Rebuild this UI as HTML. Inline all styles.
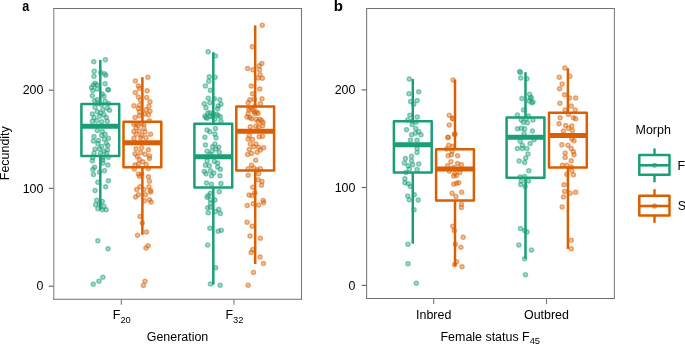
<!DOCTYPE html>
<html><head><meta charset="utf-8"><style>
html,body{margin:0;padding:0;background:#fff;width:685px;height:345px;overflow:hidden}
svg{display:block}
text{font-family:"Liberation Sans",sans-serif}
</style></head><body>
<svg width="685" height="345" viewBox="0 0 685 345">
<rect width="685" height="345" fill="#fff"/>
<line x1="53.8" y1="8.5" x2="301.5" y2="8.5" stroke="#727272" stroke-width="1.1" stroke-linecap="square"/>
<line x1="53.8" y1="8.5" x2="53.8" y2="299.3" stroke="#8c8c8c" stroke-width="1.15" stroke-linecap="square"/>
<line x1="301.5" y1="8.5" x2="301.5" y2="299.3" stroke="#787878" stroke-width="1.1" stroke-linecap="square"/>
<line x1="53.8" y1="299.3" x2="301.5" y2="299.3" stroke="#727272" stroke-width="1.1" stroke-linecap="square"/>
<line x1="366.6" y1="8.5" x2="614.4" y2="8.5" stroke="#727272" stroke-width="1.1" stroke-linecap="square"/>
<line x1="366.6" y1="8.5" x2="366.6" y2="298.5" stroke="#808080" stroke-width="1.15" stroke-linecap="square"/>
<line x1="614.4" y1="8.5" x2="614.4" y2="298.5" stroke="#858585" stroke-width="1.15" stroke-linecap="square"/>
<line x1="366.6" y1="298.5" x2="614.4" y2="298.5" stroke="#727272" stroke-width="1.1" stroke-linecap="square"/>
<line x1="48.8" y1="286.2" x2="53.6" y2="286.2" stroke="#5f5f5f" stroke-width="1.1"/>
<line x1="48.8" y1="188.3" x2="53.6" y2="188.3" stroke="#5f5f5f" stroke-width="1.1"/>
<line x1="48.8" y1="90.2" x2="53.6" y2="90.2" stroke="#5f5f5f" stroke-width="1.1"/>
<line x1="361.6" y1="285.4" x2="366.4" y2="285.4" stroke="#5f5f5f" stroke-width="1.1"/>
<line x1="361.6" y1="187.5" x2="366.4" y2="187.5" stroke="#5f5f5f" stroke-width="1.1"/>
<line x1="361.6" y1="89.9" x2="366.4" y2="89.9" stroke="#5f5f5f" stroke-width="1.1"/>
<line x1="121.3" y1="299.3" x2="121.3" y2="304.8" stroke="#7a7a7a" stroke-width="1.1"/>
<line x1="234.0" y1="299.3" x2="234.0" y2="304.8" stroke="#7a7a7a" stroke-width="1.1"/>
<line x1="433.7" y1="298.5" x2="433.7" y2="304.0" stroke="#7a7a7a" stroke-width="1.1"/>
<line x1="546.5" y1="298.5" x2="546.5" y2="304.0" stroke="#7a7a7a" stroke-width="1.1"/>
<defs><filter id="pb" x="-5%" y="-5%" width="110%" height="110%"><feGaussianBlur stdDeviation="0.3"/></filter></defs>
<g filter="url(#pb)">
<circle cx="93.76" cy="61.66" r="2.05" fill="#1b9e77" fill-opacity="0.38" stroke="#1b9e77" stroke-opacity="0.52" stroke-width="1.4"/>
<circle cx="105.41" cy="59.66" r="2.05" fill="#1b9e77" fill-opacity="0.38" stroke="#1b9e77" stroke-opacity="0.52" stroke-width="1.4"/>
<circle cx="94.21" cy="71.31" r="2.05" fill="#1b9e77" fill-opacity="0.38" stroke="#1b9e77" stroke-opacity="0.52" stroke-width="1.4"/>
<circle cx="93.99" cy="76.3" r="2.05" fill="#1b9e77" fill-opacity="0.38" stroke="#1b9e77" stroke-opacity="0.52" stroke-width="1.4"/>
<circle cx="100.64" cy="72.53" r="2.05" fill="#1b9e77" fill-opacity="0.38" stroke="#1b9e77" stroke-opacity="0.52" stroke-width="1.4"/>
<circle cx="104.53" cy="73.86" r="2.05" fill="#1b9e77" fill-opacity="0.38" stroke="#1b9e77" stroke-opacity="0.52" stroke-width="1.4"/>
<circle cx="105.08" cy="83.85" r="2.05" fill="#1b9e77" fill-opacity="0.38" stroke="#1b9e77" stroke-opacity="0.52" stroke-width="1.4"/>
<circle cx="93.43" cy="84.96" r="2.05" fill="#1b9e77" fill-opacity="0.38" stroke="#1b9e77" stroke-opacity="0.52" stroke-width="1.4"/>
<circle cx="96.76" cy="84.73" r="2.05" fill="#1b9e77" fill-opacity="0.38" stroke="#1b9e77" stroke-opacity="0.52" stroke-width="1.4"/>
<circle cx="108.13" cy="89.81" r="2.05" fill="#1b9e77" fill-opacity="0.38" stroke="#1b9e77" stroke-opacity="0.52" stroke-width="1.4"/>
<circle cx="92.88" cy="90.5" r="2.05" fill="#1b9e77" fill-opacity="0.38" stroke="#1b9e77" stroke-opacity="0.52" stroke-width="1.4"/>
<circle cx="147.8" cy="77.19" r="2.05" fill="#d95f02" fill-opacity="0.38" stroke="#d95f02" stroke-opacity="0.52" stroke-width="1.4"/>
<circle cx="135.37" cy="81.07" r="2.05" fill="#d95f02" fill-opacity="0.38" stroke="#d95f02" stroke-opacity="0.52" stroke-width="1.4"/>
<circle cx="138.36" cy="86.07" r="2.05" fill="#d95f02" fill-opacity="0.38" stroke="#d95f02" stroke-opacity="0.52" stroke-width="1.4"/>
<circle cx="135.31" cy="92.58" r="2.05" fill="#d95f02" fill-opacity="0.38" stroke="#d95f02" stroke-opacity="0.52" stroke-width="1.4"/>
<circle cx="147.13" cy="90.75" r="2.05" fill="#d95f02" fill-opacity="0.38" stroke="#d95f02" stroke-opacity="0.52" stroke-width="1.4"/>
<circle cx="97.31" cy="89.11" r="2.05" fill="#1b9e77" fill-opacity="0.38" stroke="#1b9e77" stroke-opacity="0.52" stroke-width="1.4"/>
<circle cx="92.32" cy="95.77" r="2.05" fill="#1b9e77" fill-opacity="0.38" stroke="#1b9e77" stroke-opacity="0.52" stroke-width="1.4"/>
<circle cx="102.31" cy="94.1" r="2.05" fill="#1b9e77" fill-opacity="0.38" stroke="#1b9e77" stroke-opacity="0.52" stroke-width="1.4"/>
<circle cx="103.97" cy="96.32" r="2.05" fill="#1b9e77" fill-opacity="0.38" stroke="#1b9e77" stroke-opacity="0.52" stroke-width="1.4"/>
<circle cx="97.31" cy="99.65" r="2.05" fill="#1b9e77" fill-opacity="0.38" stroke="#1b9e77" stroke-opacity="0.52" stroke-width="1.4"/>
<circle cx="94.54" cy="100.76" r="2.05" fill="#1b9e77" fill-opacity="0.38" stroke="#1b9e77" stroke-opacity="0.52" stroke-width="1.4"/>
<circle cx="105.08" cy="101.31" r="2.05" fill="#1b9e77" fill-opacity="0.38" stroke="#1b9e77" stroke-opacity="0.52" stroke-width="1.4"/>
<circle cx="98.42" cy="103.53" r="2.05" fill="#1b9e77" fill-opacity="0.38" stroke="#1b9e77" stroke-opacity="0.52" stroke-width="1.4"/>
<circle cx="101.75" cy="104.64" r="2.05" fill="#1b9e77" fill-opacity="0.38" stroke="#1b9e77" stroke-opacity="0.52" stroke-width="1.4"/>
<circle cx="108.41" cy="103.53" r="2.05" fill="#1b9e77" fill-opacity="0.38" stroke="#1b9e77" stroke-opacity="0.52" stroke-width="1.4"/>
<circle cx="95.09" cy="107.42" r="2.05" fill="#1b9e77" fill-opacity="0.38" stroke="#1b9e77" stroke-opacity="0.52" stroke-width="1.4"/>
<circle cx="107.3" cy="107.97" r="2.05" fill="#1b9e77" fill-opacity="0.38" stroke="#1b9e77" stroke-opacity="0.52" stroke-width="1.4"/>
<circle cx="109.52" cy="110.19" r="2.05" fill="#1b9e77" fill-opacity="0.38" stroke="#1b9e77" stroke-opacity="0.52" stroke-width="1.4"/>
<circle cx="102.86" cy="109.64" r="2.05" fill="#1b9e77" fill-opacity="0.38" stroke="#1b9e77" stroke-opacity="0.52" stroke-width="1.4"/>
<circle cx="92.32" cy="114.07" r="2.05" fill="#1b9e77" fill-opacity="0.38" stroke="#1b9e77" stroke-opacity="0.52" stroke-width="1.4"/>
<circle cx="97.31" cy="111.85" r="2.05" fill="#1b9e77" fill-opacity="0.38" stroke="#1b9e77" stroke-opacity="0.52" stroke-width="1.4"/>
<circle cx="100.64" cy="112.96" r="2.05" fill="#1b9e77" fill-opacity="0.38" stroke="#1b9e77" stroke-opacity="0.52" stroke-width="1.4"/>
<circle cx="103.97" cy="114.63" r="2.05" fill="#1b9e77" fill-opacity="0.38" stroke="#1b9e77" stroke-opacity="0.52" stroke-width="1.4"/>
<circle cx="93.99" cy="117.4" r="2.05" fill="#1b9e77" fill-opacity="0.38" stroke="#1b9e77" stroke-opacity="0.52" stroke-width="1.4"/>
<circle cx="99.53" cy="116.29" r="2.05" fill="#1b9e77" fill-opacity="0.38" stroke="#1b9e77" stroke-opacity="0.52" stroke-width="1.4"/>
<circle cx="106.19" cy="117.4" r="2.05" fill="#1b9e77" fill-opacity="0.38" stroke="#1b9e77" stroke-opacity="0.52" stroke-width="1.4"/>
<circle cx="92.32" cy="121.28" r="2.05" fill="#1b9e77" fill-opacity="0.38" stroke="#1b9e77" stroke-opacity="0.52" stroke-width="1.4"/>
<circle cx="96.76" cy="120.73" r="2.05" fill="#1b9e77" fill-opacity="0.38" stroke="#1b9e77" stroke-opacity="0.52" stroke-width="1.4"/>
<circle cx="101.75" cy="121.84" r="2.05" fill="#1b9e77" fill-opacity="0.38" stroke="#1b9e77" stroke-opacity="0.52" stroke-width="1.4"/>
<circle cx="107.3" cy="121.28" r="2.05" fill="#1b9e77" fill-opacity="0.38" stroke="#1b9e77" stroke-opacity="0.52" stroke-width="1.4"/>
<circle cx="139.47" cy="88.55" r="2.05" fill="#d95f02" fill-opacity="0.38" stroke="#d95f02" stroke-opacity="0.52" stroke-width="1.4"/>
<circle cx="138.36" cy="96.88" r="2.05" fill="#d95f02" fill-opacity="0.38" stroke="#d95f02" stroke-opacity="0.52" stroke-width="1.4"/>
<circle cx="146.69" cy="97.43" r="2.05" fill="#d95f02" fill-opacity="0.38" stroke="#d95f02" stroke-opacity="0.52" stroke-width="1.4"/>
<circle cx="140.58" cy="100.2" r="2.05" fill="#d95f02" fill-opacity="0.38" stroke="#d95f02" stroke-opacity="0.52" stroke-width="1.4"/>
<circle cx="150.01" cy="101.87" r="2.05" fill="#d95f02" fill-opacity="0.38" stroke="#d95f02" stroke-opacity="0.52" stroke-width="1.4"/>
<circle cx="133.93" cy="105.75" r="2.05" fill="#d95f02" fill-opacity="0.38" stroke="#d95f02" stroke-opacity="0.52" stroke-width="1.4"/>
<circle cx="139.47" cy="105.2" r="2.05" fill="#d95f02" fill-opacity="0.38" stroke="#d95f02" stroke-opacity="0.52" stroke-width="1.4"/>
<circle cx="148.91" cy="106.31" r="2.05" fill="#d95f02" fill-opacity="0.38" stroke="#d95f02" stroke-opacity="0.52" stroke-width="1.4"/>
<circle cx="138.36" cy="108.53" r="2.05" fill="#d95f02" fill-opacity="0.38" stroke="#d95f02" stroke-opacity="0.52" stroke-width="1.4"/>
<circle cx="146.13" cy="109.64" r="2.05" fill="#d95f02" fill-opacity="0.38" stroke="#d95f02" stroke-opacity="0.52" stroke-width="1.4"/>
<circle cx="150.01" cy="111.3" r="2.05" fill="#d95f02" fill-opacity="0.38" stroke="#d95f02" stroke-opacity="0.52" stroke-width="1.4"/>
<circle cx="139.47" cy="111.85" r="2.05" fill="#d95f02" fill-opacity="0.38" stroke="#d95f02" stroke-opacity="0.52" stroke-width="1.4"/>
<circle cx="144.47" cy="114.07" r="2.05" fill="#d95f02" fill-opacity="0.38" stroke="#d95f02" stroke-opacity="0.52" stroke-width="1.4"/>
<circle cx="135.04" cy="117.4" r="2.05" fill="#d95f02" fill-opacity="0.38" stroke="#d95f02" stroke-opacity="0.52" stroke-width="1.4"/>
<circle cx="139.47" cy="115.74" r="2.05" fill="#d95f02" fill-opacity="0.38" stroke="#d95f02" stroke-opacity="0.52" stroke-width="1.4"/>
<circle cx="148.35" cy="114.63" r="2.05" fill="#d95f02" fill-opacity="0.38" stroke="#d95f02" stroke-opacity="0.52" stroke-width="1.4"/>
<circle cx="149.46" cy="120.73" r="2.05" fill="#d95f02" fill-opacity="0.38" stroke="#d95f02" stroke-opacity="0.52" stroke-width="1.4"/>
<circle cx="136.15" cy="123.5" r="2.05" fill="#d95f02" fill-opacity="0.38" stroke="#d95f02" stroke-opacity="0.52" stroke-width="1.4"/>
<circle cx="141.69" cy="123.5" r="2.05" fill="#d95f02" fill-opacity="0.38" stroke="#d95f02" stroke-opacity="0.52" stroke-width="1.4"/>
<circle cx="97.31" cy="130.43" r="2.05" fill="#1b9e77" fill-opacity="0.38" stroke="#1b9e77" stroke-opacity="0.52" stroke-width="1.4"/>
<circle cx="102.31" cy="131.54" r="2.05" fill="#1b9e77" fill-opacity="0.38" stroke="#1b9e77" stroke-opacity="0.52" stroke-width="1.4"/>
<circle cx="105.08" cy="134.31" r="2.05" fill="#1b9e77" fill-opacity="0.38" stroke="#1b9e77" stroke-opacity="0.52" stroke-width="1.4"/>
<circle cx="93.99" cy="136.53" r="2.05" fill="#1b9e77" fill-opacity="0.38" stroke="#1b9e77" stroke-opacity="0.52" stroke-width="1.4"/>
<circle cx="101.75" cy="135.42" r="2.05" fill="#1b9e77" fill-opacity="0.38" stroke="#1b9e77" stroke-opacity="0.52" stroke-width="1.4"/>
<circle cx="108.41" cy="138.2" r="2.05" fill="#1b9e77" fill-opacity="0.38" stroke="#1b9e77" stroke-opacity="0.52" stroke-width="1.4"/>
<circle cx="93.43" cy="140.97" r="2.05" fill="#1b9e77" fill-opacity="0.38" stroke="#1b9e77" stroke-opacity="0.52" stroke-width="1.4"/>
<circle cx="98.42" cy="140.42" r="2.05" fill="#1b9e77" fill-opacity="0.38" stroke="#1b9e77" stroke-opacity="0.52" stroke-width="1.4"/>
<circle cx="104.53" cy="139.31" r="2.05" fill="#1b9e77" fill-opacity="0.38" stroke="#1b9e77" stroke-opacity="0.52" stroke-width="1.4"/>
<circle cx="106.19" cy="143.19" r="2.05" fill="#1b9e77" fill-opacity="0.38" stroke="#1b9e77" stroke-opacity="0.52" stroke-width="1.4"/>
<circle cx="97.87" cy="143.74" r="2.05" fill="#1b9e77" fill-opacity="0.38" stroke="#1b9e77" stroke-opacity="0.52" stroke-width="1.4"/>
<circle cx="107.85" cy="145.41" r="2.05" fill="#1b9e77" fill-opacity="0.38" stroke="#1b9e77" stroke-opacity="0.52" stroke-width="1.4"/>
<circle cx="101.75" cy="146.52" r="2.05" fill="#1b9e77" fill-opacity="0.38" stroke="#1b9e77" stroke-opacity="0.52" stroke-width="1.4"/>
<circle cx="95.09" cy="149.29" r="2.05" fill="#1b9e77" fill-opacity="0.38" stroke="#1b9e77" stroke-opacity="0.52" stroke-width="1.4"/>
<circle cx="99.53" cy="148.74" r="2.05" fill="#1b9e77" fill-opacity="0.38" stroke="#1b9e77" stroke-opacity="0.52" stroke-width="1.4"/>
<circle cx="107.3" cy="149.85" r="2.05" fill="#1b9e77" fill-opacity="0.38" stroke="#1b9e77" stroke-opacity="0.52" stroke-width="1.4"/>
<circle cx="103.97" cy="151.51" r="2.05" fill="#1b9e77" fill-opacity="0.38" stroke="#1b9e77" stroke-opacity="0.52" stroke-width="1.4"/>
<circle cx="93.99" cy="153.18" r="2.05" fill="#1b9e77" fill-opacity="0.38" stroke="#1b9e77" stroke-opacity="0.52" stroke-width="1.4"/>
<circle cx="100.64" cy="153.18" r="2.05" fill="#1b9e77" fill-opacity="0.38" stroke="#1b9e77" stroke-opacity="0.52" stroke-width="1.4"/>
<circle cx="106.74" cy="153.18" r="2.05" fill="#1b9e77" fill-opacity="0.38" stroke="#1b9e77" stroke-opacity="0.52" stroke-width="1.4"/>
<circle cx="92.88" cy="157.61" r="2.05" fill="#1b9e77" fill-opacity="0.38" stroke="#1b9e77" stroke-opacity="0.52" stroke-width="1.4"/>
<circle cx="102.86" cy="157.61" r="2.05" fill="#1b9e77" fill-opacity="0.38" stroke="#1b9e77" stroke-opacity="0.52" stroke-width="1.4"/>
<circle cx="133.93" cy="124.33" r="2.05" fill="#d95f02" fill-opacity="0.38" stroke="#d95f02" stroke-opacity="0.52" stroke-width="1.4"/>
<circle cx="138.36" cy="125.44" r="2.05" fill="#d95f02" fill-opacity="0.38" stroke="#d95f02" stroke-opacity="0.52" stroke-width="1.4"/>
<circle cx="143.91" cy="124.33" r="2.05" fill="#d95f02" fill-opacity="0.38" stroke="#d95f02" stroke-opacity="0.52" stroke-width="1.4"/>
<circle cx="136.15" cy="127.66" r="2.05" fill="#d95f02" fill-opacity="0.38" stroke="#d95f02" stroke-opacity="0.52" stroke-width="1.4"/>
<circle cx="143.91" cy="128.21" r="2.05" fill="#d95f02" fill-opacity="0.38" stroke="#d95f02" stroke-opacity="0.52" stroke-width="1.4"/>
<circle cx="133.93" cy="131.54" r="2.05" fill="#d95f02" fill-opacity="0.38" stroke="#d95f02" stroke-opacity="0.52" stroke-width="1.4"/>
<circle cx="139.47" cy="130.99" r="2.05" fill="#d95f02" fill-opacity="0.38" stroke="#d95f02" stroke-opacity="0.52" stroke-width="1.4"/>
<circle cx="145.02" cy="132.09" r="2.05" fill="#d95f02" fill-opacity="0.38" stroke="#d95f02" stroke-opacity="0.52" stroke-width="1.4"/>
<circle cx="150.57" cy="134.31" r="2.05" fill="#d95f02" fill-opacity="0.38" stroke="#d95f02" stroke-opacity="0.52" stroke-width="1.4"/>
<circle cx="136.15" cy="134.31" r="2.05" fill="#d95f02" fill-opacity="0.38" stroke="#d95f02" stroke-opacity="0.52" stroke-width="1.4"/>
<circle cx="141.69" cy="135.42" r="2.05" fill="#d95f02" fill-opacity="0.38" stroke="#d95f02" stroke-opacity="0.52" stroke-width="1.4"/>
<circle cx="133.93" cy="138.2" r="2.05" fill="#d95f02" fill-opacity="0.38" stroke="#d95f02" stroke-opacity="0.52" stroke-width="1.4"/>
<circle cx="140.58" cy="137.64" r="2.05" fill="#d95f02" fill-opacity="0.38" stroke="#d95f02" stroke-opacity="0.52" stroke-width="1.4"/>
<circle cx="146.13" cy="137.64" r="2.05" fill="#d95f02" fill-opacity="0.38" stroke="#d95f02" stroke-opacity="0.52" stroke-width="1.4"/>
<circle cx="136.15" cy="148.74" r="2.05" fill="#d95f02" fill-opacity="0.38" stroke="#d95f02" stroke-opacity="0.52" stroke-width="1.4"/>
<circle cx="141.69" cy="147.63" r="2.05" fill="#d95f02" fill-opacity="0.38" stroke="#d95f02" stroke-opacity="0.52" stroke-width="1.4"/>
<circle cx="148.35" cy="149.85" r="2.05" fill="#d95f02" fill-opacity="0.38" stroke="#d95f02" stroke-opacity="0.52" stroke-width="1.4"/>
<circle cx="135.04" cy="153.73" r="2.05" fill="#d95f02" fill-opacity="0.38" stroke="#d95f02" stroke-opacity="0.52" stroke-width="1.4"/>
<circle cx="140.58" cy="152.62" r="2.05" fill="#d95f02" fill-opacity="0.38" stroke="#d95f02" stroke-opacity="0.52" stroke-width="1.4"/>
<circle cx="145.02" cy="154.28" r="2.05" fill="#d95f02" fill-opacity="0.38" stroke="#d95f02" stroke-opacity="0.52" stroke-width="1.4"/>
<circle cx="149.46" cy="155.95" r="2.05" fill="#d95f02" fill-opacity="0.38" stroke="#d95f02" stroke-opacity="0.52" stroke-width="1.4"/>
<circle cx="137.26" cy="156.5" r="2.05" fill="#d95f02" fill-opacity="0.38" stroke="#d95f02" stroke-opacity="0.52" stroke-width="1.4"/>
<circle cx="108.41" cy="157.33" r="2.05" fill="#1b9e77" fill-opacity="0.38" stroke="#1b9e77" stroke-opacity="0.52" stroke-width="1.4"/>
<circle cx="92.32" cy="160.66" r="2.05" fill="#1b9e77" fill-opacity="0.38" stroke="#1b9e77" stroke-opacity="0.52" stroke-width="1.4"/>
<circle cx="102.86" cy="160.1" r="2.05" fill="#1b9e77" fill-opacity="0.38" stroke="#1b9e77" stroke-opacity="0.52" stroke-width="1.4"/>
<circle cx="102.86" cy="162.88" r="2.05" fill="#1b9e77" fill-opacity="0.38" stroke="#1b9e77" stroke-opacity="0.52" stroke-width="1.4"/>
<circle cx="107.85" cy="165.09" r="2.05" fill="#1b9e77" fill-opacity="0.38" stroke="#1b9e77" stroke-opacity="0.52" stroke-width="1.4"/>
<circle cx="94.54" cy="167.31" r="2.05" fill="#1b9e77" fill-opacity="0.38" stroke="#1b9e77" stroke-opacity="0.52" stroke-width="1.4"/>
<circle cx="92.88" cy="169.53" r="2.05" fill="#1b9e77" fill-opacity="0.38" stroke="#1b9e77" stroke-opacity="0.52" stroke-width="1.4"/>
<circle cx="104.53" cy="170.64" r="2.05" fill="#1b9e77" fill-opacity="0.38" stroke="#1b9e77" stroke-opacity="0.52" stroke-width="1.4"/>
<circle cx="99.53" cy="172.31" r="2.05" fill="#1b9e77" fill-opacity="0.38" stroke="#1b9e77" stroke-opacity="0.52" stroke-width="1.4"/>
<circle cx="93.43" cy="174.53" r="2.05" fill="#1b9e77" fill-opacity="0.38" stroke="#1b9e77" stroke-opacity="0.52" stroke-width="1.4"/>
<circle cx="97.87" cy="182.29" r="2.05" fill="#1b9e77" fill-opacity="0.38" stroke="#1b9e77" stroke-opacity="0.52" stroke-width="1.4"/>
<circle cx="108.41" cy="180.63" r="2.05" fill="#1b9e77" fill-opacity="0.38" stroke="#1b9e77" stroke-opacity="0.52" stroke-width="1.4"/>
<circle cx="105.64" cy="186.73" r="2.05" fill="#1b9e77" fill-opacity="0.38" stroke="#1b9e77" stroke-opacity="0.52" stroke-width="1.4"/>
<circle cx="95.09" cy="190.61" r="2.05" fill="#1b9e77" fill-opacity="0.38" stroke="#1b9e77" stroke-opacity="0.52" stroke-width="1.4"/>
<circle cx="139.47" cy="159.55" r="2.05" fill="#d95f02" fill-opacity="0.38" stroke="#d95f02" stroke-opacity="0.52" stroke-width="1.4"/>
<circle cx="142.8" cy="161.77" r="2.05" fill="#d95f02" fill-opacity="0.38" stroke="#d95f02" stroke-opacity="0.52" stroke-width="1.4"/>
<circle cx="149.46" cy="158.44" r="2.05" fill="#d95f02" fill-opacity="0.38" stroke="#d95f02" stroke-opacity="0.52" stroke-width="1.4"/>
<circle cx="138.36" cy="163.99" r="2.05" fill="#d95f02" fill-opacity="0.38" stroke="#d95f02" stroke-opacity="0.52" stroke-width="1.4"/>
<circle cx="146.13" cy="164.54" r="2.05" fill="#d95f02" fill-opacity="0.38" stroke="#d95f02" stroke-opacity="0.52" stroke-width="1.4"/>
<circle cx="135.04" cy="165.09" r="2.05" fill="#d95f02" fill-opacity="0.38" stroke="#d95f02" stroke-opacity="0.52" stroke-width="1.4"/>
<circle cx="134.48" cy="168.98" r="2.05" fill="#d95f02" fill-opacity="0.38" stroke="#d95f02" stroke-opacity="0.52" stroke-width="1.4"/>
<circle cx="148.35" cy="168.42" r="2.05" fill="#d95f02" fill-opacity="0.38" stroke="#d95f02" stroke-opacity="0.52" stroke-width="1.4"/>
<circle cx="138.36" cy="173.97" r="2.05" fill="#d95f02" fill-opacity="0.38" stroke="#d95f02" stroke-opacity="0.52" stroke-width="1.4"/>
<circle cx="139.47" cy="176.19" r="2.05" fill="#d95f02" fill-opacity="0.38" stroke="#d95f02" stroke-opacity="0.52" stroke-width="1.4"/>
<circle cx="141.69" cy="173.97" r="2.05" fill="#d95f02" fill-opacity="0.38" stroke="#d95f02" stroke-opacity="0.52" stroke-width="1.4"/>
<circle cx="148.35" cy="176.74" r="2.05" fill="#d95f02" fill-opacity="0.38" stroke="#d95f02" stroke-opacity="0.52" stroke-width="1.4"/>
<circle cx="149.46" cy="181.18" r="2.05" fill="#d95f02" fill-opacity="0.38" stroke="#d95f02" stroke-opacity="0.52" stroke-width="1.4"/>
<circle cx="140.03" cy="186.73" r="2.05" fill="#d95f02" fill-opacity="0.38" stroke="#d95f02" stroke-opacity="0.52" stroke-width="1.4"/>
<circle cx="148.91" cy="186.73" r="2.05" fill="#d95f02" fill-opacity="0.38" stroke="#d95f02" stroke-opacity="0.52" stroke-width="1.4"/>
<circle cx="136.7" cy="189.5" r="2.05" fill="#d95f02" fill-opacity="0.38" stroke="#d95f02" stroke-opacity="0.52" stroke-width="1.4"/>
<circle cx="143.91" cy="189.5" r="2.05" fill="#d95f02" fill-opacity="0.38" stroke="#d95f02" stroke-opacity="0.52" stroke-width="1.4"/>
<circle cx="150.57" cy="190.61" r="2.05" fill="#d95f02" fill-opacity="0.38" stroke="#d95f02" stroke-opacity="0.52" stroke-width="1.4"/>
<circle cx="96.76" cy="200.31" r="2.05" fill="#1b9e77" fill-opacity="0.38" stroke="#1b9e77" stroke-opacity="0.52" stroke-width="1.4"/>
<circle cx="102.31" cy="201.42" r="2.05" fill="#1b9e77" fill-opacity="0.38" stroke="#1b9e77" stroke-opacity="0.52" stroke-width="1.4"/>
<circle cx="95.65" cy="204.75" r="2.05" fill="#1b9e77" fill-opacity="0.38" stroke="#1b9e77" stroke-opacity="0.52" stroke-width="1.4"/>
<circle cx="103.97" cy="206.42" r="2.05" fill="#1b9e77" fill-opacity="0.38" stroke="#1b9e77" stroke-opacity="0.52" stroke-width="1.4"/>
<circle cx="97.87" cy="208.64" r="2.05" fill="#1b9e77" fill-opacity="0.38" stroke="#1b9e77" stroke-opacity="0.52" stroke-width="1.4"/>
<circle cx="102.31" cy="209.74" r="2.05" fill="#1b9e77" fill-opacity="0.38" stroke="#1b9e77" stroke-opacity="0.52" stroke-width="1.4"/>
<circle cx="106.19" cy="209.74" r="2.05" fill="#1b9e77" fill-opacity="0.38" stroke="#1b9e77" stroke-opacity="0.52" stroke-width="1.4"/>
<circle cx="99.53" cy="203.64" r="2.05" fill="#1b9e77" fill-opacity="0.38" stroke="#1b9e77" stroke-opacity="0.52" stroke-width="1.4"/>
<circle cx="135.59" cy="196.99" r="2.05" fill="#d95f02" fill-opacity="0.38" stroke="#d95f02" stroke-opacity="0.52" stroke-width="1.4"/>
<circle cx="138.36" cy="194.77" r="2.05" fill="#d95f02" fill-opacity="0.38" stroke="#d95f02" stroke-opacity="0.52" stroke-width="1.4"/>
<circle cx="150.57" cy="191.99" r="2.05" fill="#d95f02" fill-opacity="0.38" stroke="#d95f02" stroke-opacity="0.52" stroke-width="1.4"/>
<circle cx="145.58" cy="194.77" r="2.05" fill="#d95f02" fill-opacity="0.38" stroke="#d95f02" stroke-opacity="0.52" stroke-width="1.4"/>
<circle cx="144.47" cy="200.87" r="2.05" fill="#d95f02" fill-opacity="0.38" stroke="#d95f02" stroke-opacity="0.52" stroke-width="1.4"/>
<circle cx="149.46" cy="199.76" r="2.05" fill="#d95f02" fill-opacity="0.38" stroke="#d95f02" stroke-opacity="0.52" stroke-width="1.4"/>
<circle cx="151.12" cy="201.98" r="2.05" fill="#d95f02" fill-opacity="0.38" stroke="#d95f02" stroke-opacity="0.52" stroke-width="1.4"/>
<circle cx="140.03" cy="216.4" r="2.05" fill="#d95f02" fill-opacity="0.38" stroke="#d95f02" stroke-opacity="0.52" stroke-width="1.4"/>
<circle cx="142.25" cy="223.06" r="2.05" fill="#d95f02" fill-opacity="0.38" stroke="#d95f02" stroke-opacity="0.52" stroke-width="1.4"/>
<circle cx="97.87" cy="240.86" r="2.05" fill="#1b9e77" fill-opacity="0.38" stroke="#1b9e77" stroke-opacity="0.52" stroke-width="1.4"/>
<circle cx="108.08" cy="248.85" r="2.05" fill="#1b9e77" fill-opacity="0.38" stroke="#1b9e77" stroke-opacity="0.52" stroke-width="1.4"/>
<circle cx="146.46" cy="231.98" r="2.05" fill="#d95f02" fill-opacity="0.38" stroke="#d95f02" stroke-opacity="0.52" stroke-width="1.4"/>
<circle cx="137.59" cy="235.2" r="2.05" fill="#d95f02" fill-opacity="0.38" stroke="#d95f02" stroke-opacity="0.52" stroke-width="1.4"/>
<circle cx="148.13" cy="245.74" r="2.05" fill="#d95f02" fill-opacity="0.38" stroke="#d95f02" stroke-opacity="0.52" stroke-width="1.4"/>
<circle cx="145.91" cy="247.96" r="2.05" fill="#d95f02" fill-opacity="0.38" stroke="#d95f02" stroke-opacity="0.52" stroke-width="1.4"/>
<circle cx="93.21" cy="284.29" r="2.05" fill="#1b9e77" fill-opacity="0.38" stroke="#1b9e77" stroke-opacity="0.52" stroke-width="1.4"/>
<circle cx="98.98" cy="281.3" r="2.05" fill="#1b9e77" fill-opacity="0.38" stroke="#1b9e77" stroke-opacity="0.52" stroke-width="1.4"/>
<circle cx="102.86" cy="277.3" r="2.05" fill="#1b9e77" fill-opacity="0.38" stroke="#1b9e77" stroke-opacity="0.52" stroke-width="1.4"/>
<circle cx="145.02" cy="281.3" r="2.05" fill="#d95f02" fill-opacity="0.38" stroke="#d95f02" stroke-opacity="0.52" stroke-width="1.4"/>
<circle cx="143.36" cy="285.4" r="2.05" fill="#d95f02" fill-opacity="0.38" stroke="#d95f02" stroke-opacity="0.52" stroke-width="1.4"/>
<circle cx="208.2" cy="51.84" r="2.05" fill="#1b9e77" fill-opacity="0.38" stroke="#1b9e77" stroke-opacity="0.52" stroke-width="1.4"/>
<circle cx="215.42" cy="56.06" r="2.05" fill="#1b9e77" fill-opacity="0.38" stroke="#1b9e77" stroke-opacity="0.52" stroke-width="1.4"/>
<circle cx="262.24" cy="25.33" r="2.05" fill="#d95f02" fill-opacity="0.38" stroke="#d95f02" stroke-opacity="0.52" stroke-width="1.4"/>
<circle cx="252.25" cy="46.85" r="2.05" fill="#d95f02" fill-opacity="0.38" stroke="#d95f02" stroke-opacity="0.52" stroke-width="1.4"/>
<circle cx="209.31" cy="76.85" r="2.05" fill="#1b9e77" fill-opacity="0.38" stroke="#1b9e77" stroke-opacity="0.52" stroke-width="1.4"/>
<circle cx="215.08" cy="77.19" r="2.05" fill="#1b9e77" fill-opacity="0.38" stroke="#1b9e77" stroke-opacity="0.52" stroke-width="1.4"/>
<circle cx="208.76" cy="81.29" r="2.05" fill="#1b9e77" fill-opacity="0.38" stroke="#1b9e77" stroke-opacity="0.52" stroke-width="1.4"/>
<circle cx="205.43" cy="86.06" r="2.05" fill="#1b9e77" fill-opacity="0.38" stroke="#1b9e77" stroke-opacity="0.52" stroke-width="1.4"/>
<circle cx="210.42" cy="90.17" r="2.05" fill="#1b9e77" fill-opacity="0.38" stroke="#1b9e77" stroke-opacity="0.52" stroke-width="1.4"/>
<circle cx="247.59" cy="68.53" r="2.05" fill="#d95f02" fill-opacity="0.38" stroke="#d95f02" stroke-opacity="0.52" stroke-width="1.4"/>
<circle cx="252.92" cy="69.64" r="2.05" fill="#d95f02" fill-opacity="0.38" stroke="#d95f02" stroke-opacity="0.52" stroke-width="1.4"/>
<circle cx="259.57" cy="69.64" r="2.05" fill="#d95f02" fill-opacity="0.38" stroke="#d95f02" stroke-opacity="0.52" stroke-width="1.4"/>
<circle cx="261.79" cy="63.54" r="2.05" fill="#d95f02" fill-opacity="0.38" stroke="#d95f02" stroke-opacity="0.52" stroke-width="1.4"/>
<circle cx="259.24" cy="65.76" r="2.05" fill="#d95f02" fill-opacity="0.38" stroke="#d95f02" stroke-opacity="0.52" stroke-width="1.4"/>
<circle cx="260.13" cy="74.64" r="2.05" fill="#d95f02" fill-opacity="0.38" stroke="#d95f02" stroke-opacity="0.52" stroke-width="1.4"/>
<circle cx="262.35" cy="78.3" r="2.05" fill="#d95f02" fill-opacity="0.38" stroke="#d95f02" stroke-opacity="0.52" stroke-width="1.4"/>
<circle cx="258.13" cy="77.96" r="2.05" fill="#d95f02" fill-opacity="0.38" stroke="#d95f02" stroke-opacity="0.52" stroke-width="1.4"/>
<circle cx="251.25" cy="86.06" r="2.05" fill="#d95f02" fill-opacity="0.38" stroke="#d95f02" stroke-opacity="0.52" stroke-width="1.4"/>
<circle cx="259.8" cy="89.06" r="2.05" fill="#d95f02" fill-opacity="0.38" stroke="#d95f02" stroke-opacity="0.52" stroke-width="1.4"/>
<circle cx="208.2" cy="98.2" r="2.05" fill="#1b9e77" fill-opacity="0.38" stroke="#1b9e77" stroke-opacity="0.52" stroke-width="1.4"/>
<circle cx="214.31" cy="98.76" r="2.05" fill="#1b9e77" fill-opacity="0.38" stroke="#1b9e77" stroke-opacity="0.52" stroke-width="1.4"/>
<circle cx="219.85" cy="99.87" r="2.05" fill="#1b9e77" fill-opacity="0.38" stroke="#1b9e77" stroke-opacity="0.52" stroke-width="1.4"/>
<circle cx="204.32" cy="103.75" r="2.05" fill="#1b9e77" fill-opacity="0.38" stroke="#1b9e77" stroke-opacity="0.52" stroke-width="1.4"/>
<circle cx="209.87" cy="102.64" r="2.05" fill="#1b9e77" fill-opacity="0.38" stroke="#1b9e77" stroke-opacity="0.52" stroke-width="1.4"/>
<circle cx="205.99" cy="107.64" r="2.05" fill="#1b9e77" fill-opacity="0.38" stroke="#1b9e77" stroke-opacity="0.52" stroke-width="1.4"/>
<circle cx="218.19" cy="105.97" r="2.05" fill="#1b9e77" fill-opacity="0.38" stroke="#1b9e77" stroke-opacity="0.52" stroke-width="1.4"/>
<circle cx="220.96" cy="104.31" r="2.05" fill="#1b9e77" fill-opacity="0.38" stroke="#1b9e77" stroke-opacity="0.52" stroke-width="1.4"/>
<circle cx="217.64" cy="108.74" r="2.05" fill="#1b9e77" fill-opacity="0.38" stroke="#1b9e77" stroke-opacity="0.52" stroke-width="1.4"/>
<circle cx="207.65" cy="113.18" r="2.05" fill="#1b9e77" fill-opacity="0.38" stroke="#1b9e77" stroke-opacity="0.52" stroke-width="1.4"/>
<circle cx="213.2" cy="113.74" r="2.05" fill="#1b9e77" fill-opacity="0.38" stroke="#1b9e77" stroke-opacity="0.52" stroke-width="1.4"/>
<circle cx="216.53" cy="114.29" r="2.05" fill="#1b9e77" fill-opacity="0.38" stroke="#1b9e77" stroke-opacity="0.52" stroke-width="1.4"/>
<circle cx="204.88" cy="115.96" r="2.05" fill="#1b9e77" fill-opacity="0.38" stroke="#1b9e77" stroke-opacity="0.52" stroke-width="1.4"/>
<circle cx="207.09" cy="118.18" r="2.05" fill="#1b9e77" fill-opacity="0.38" stroke="#1b9e77" stroke-opacity="0.52" stroke-width="1.4"/>
<circle cx="210.42" cy="116.51" r="2.05" fill="#1b9e77" fill-opacity="0.38" stroke="#1b9e77" stroke-opacity="0.52" stroke-width="1.4"/>
<circle cx="220.41" cy="117.07" r="2.05" fill="#1b9e77" fill-opacity="0.38" stroke="#1b9e77" stroke-opacity="0.52" stroke-width="1.4"/>
<circle cx="214.86" cy="119.28" r="2.05" fill="#1b9e77" fill-opacity="0.38" stroke="#1b9e77" stroke-opacity="0.52" stroke-width="1.4"/>
<circle cx="220.96" cy="121.5" r="2.05" fill="#1b9e77" fill-opacity="0.38" stroke="#1b9e77" stroke-opacity="0.52" stroke-width="1.4"/>
<circle cx="252.58" cy="93.77" r="2.05" fill="#d95f02" fill-opacity="0.38" stroke="#d95f02" stroke-opacity="0.52" stroke-width="1.4"/>
<circle cx="249.81" cy="99.87" r="2.05" fill="#d95f02" fill-opacity="0.38" stroke="#d95f02" stroke-opacity="0.52" stroke-width="1.4"/>
<circle cx="254.25" cy="99.31" r="2.05" fill="#d95f02" fill-opacity="0.38" stroke="#d95f02" stroke-opacity="0.52" stroke-width="1.4"/>
<circle cx="262.01" cy="98.76" r="2.05" fill="#d95f02" fill-opacity="0.38" stroke="#d95f02" stroke-opacity="0.52" stroke-width="1.4"/>
<circle cx="260.35" cy="103.75" r="2.05" fill="#d95f02" fill-opacity="0.38" stroke="#d95f02" stroke-opacity="0.52" stroke-width="1.4"/>
<circle cx="248.15" cy="102.64" r="2.05" fill="#d95f02" fill-opacity="0.38" stroke="#d95f02" stroke-opacity="0.52" stroke-width="1.4"/>
<circle cx="254.8" cy="106.53" r="2.05" fill="#d95f02" fill-opacity="0.38" stroke="#d95f02" stroke-opacity="0.52" stroke-width="1.4"/>
<circle cx="248.7" cy="109.85" r="2.05" fill="#d95f02" fill-opacity="0.38" stroke="#d95f02" stroke-opacity="0.52" stroke-width="1.4"/>
<circle cx="252.58" cy="109.85" r="2.05" fill="#d95f02" fill-opacity="0.38" stroke="#d95f02" stroke-opacity="0.52" stroke-width="1.4"/>
<circle cx="256.47" cy="112.07" r="2.05" fill="#d95f02" fill-opacity="0.38" stroke="#d95f02" stroke-opacity="0.52" stroke-width="1.4"/>
<circle cx="248.15" cy="113.74" r="2.05" fill="#d95f02" fill-opacity="0.38" stroke="#d95f02" stroke-opacity="0.52" stroke-width="1.4"/>
<circle cx="254.8" cy="113.74" r="2.05" fill="#d95f02" fill-opacity="0.38" stroke="#d95f02" stroke-opacity="0.52" stroke-width="1.4"/>
<circle cx="258.13" cy="113.18" r="2.05" fill="#d95f02" fill-opacity="0.38" stroke="#d95f02" stroke-opacity="0.52" stroke-width="1.4"/>
<circle cx="247.04" cy="117.07" r="2.05" fill="#d95f02" fill-opacity="0.38" stroke="#d95f02" stroke-opacity="0.52" stroke-width="1.4"/>
<circle cx="251.47" cy="118.73" r="2.05" fill="#d95f02" fill-opacity="0.38" stroke="#d95f02" stroke-opacity="0.52" stroke-width="1.4"/>
<circle cx="255.91" cy="119.28" r="2.05" fill="#d95f02" fill-opacity="0.38" stroke="#d95f02" stroke-opacity="0.52" stroke-width="1.4"/>
<circle cx="261.46" cy="120.39" r="2.05" fill="#d95f02" fill-opacity="0.38" stroke="#d95f02" stroke-opacity="0.52" stroke-width="1.4"/>
<circle cx="258.13" cy="121.5" r="2.05" fill="#d95f02" fill-opacity="0.38" stroke="#d95f02" stroke-opacity="0.52" stroke-width="1.4"/>
<circle cx="215.42" cy="128.43" r="2.05" fill="#1b9e77" fill-opacity="0.38" stroke="#1b9e77" stroke-opacity="0.52" stroke-width="1.4"/>
<circle cx="207.09" cy="130.09" r="2.05" fill="#1b9e77" fill-opacity="0.38" stroke="#1b9e77" stroke-opacity="0.52" stroke-width="1.4"/>
<circle cx="209.87" cy="131.76" r="2.05" fill="#1b9e77" fill-opacity="0.38" stroke="#1b9e77" stroke-opacity="0.52" stroke-width="1.4"/>
<circle cx="214.86" cy="133.98" r="2.05" fill="#1b9e77" fill-opacity="0.38" stroke="#1b9e77" stroke-opacity="0.52" stroke-width="1.4"/>
<circle cx="204.88" cy="137.31" r="2.05" fill="#1b9e77" fill-opacity="0.38" stroke="#1b9e77" stroke-opacity="0.52" stroke-width="1.4"/>
<circle cx="215.97" cy="137.86" r="2.05" fill="#1b9e77" fill-opacity="0.38" stroke="#1b9e77" stroke-opacity="0.52" stroke-width="1.4"/>
<circle cx="205.43" cy="145.07" r="2.05" fill="#1b9e77" fill-opacity="0.38" stroke="#1b9e77" stroke-opacity="0.52" stroke-width="1.4"/>
<circle cx="214.86" cy="143.96" r="2.05" fill="#1b9e77" fill-opacity="0.38" stroke="#1b9e77" stroke-opacity="0.52" stroke-width="1.4"/>
<circle cx="212.64" cy="146.74" r="2.05" fill="#1b9e77" fill-opacity="0.38" stroke="#1b9e77" stroke-opacity="0.52" stroke-width="1.4"/>
<circle cx="218.74" cy="147.29" r="2.05" fill="#1b9e77" fill-opacity="0.38" stroke="#1b9e77" stroke-opacity="0.52" stroke-width="1.4"/>
<circle cx="215.97" cy="148.96" r="2.05" fill="#1b9e77" fill-opacity="0.38" stroke="#1b9e77" stroke-opacity="0.52" stroke-width="1.4"/>
<circle cx="207.09" cy="151.18" r="2.05" fill="#1b9e77" fill-opacity="0.38" stroke="#1b9e77" stroke-opacity="0.52" stroke-width="1.4"/>
<circle cx="212.09" cy="151.18" r="2.05" fill="#1b9e77" fill-opacity="0.38" stroke="#1b9e77" stroke-opacity="0.52" stroke-width="1.4"/>
<circle cx="219.3" cy="152.28" r="2.05" fill="#1b9e77" fill-opacity="0.38" stroke="#1b9e77" stroke-opacity="0.52" stroke-width="1.4"/>
<circle cx="209.87" cy="154.5" r="2.05" fill="#1b9e77" fill-opacity="0.38" stroke="#1b9e77" stroke-opacity="0.52" stroke-width="1.4"/>
<circle cx="250.36" cy="126.77" r="2.05" fill="#d95f02" fill-opacity="0.38" stroke="#d95f02" stroke-opacity="0.52" stroke-width="1.4"/>
<circle cx="255.91" cy="126.21" r="2.05" fill="#d95f02" fill-opacity="0.38" stroke="#d95f02" stroke-opacity="0.52" stroke-width="1.4"/>
<circle cx="262.57" cy="125.66" r="2.05" fill="#d95f02" fill-opacity="0.38" stroke="#d95f02" stroke-opacity="0.52" stroke-width="1.4"/>
<circle cx="258.69" cy="126.77" r="2.05" fill="#d95f02" fill-opacity="0.38" stroke="#d95f02" stroke-opacity="0.52" stroke-width="1.4"/>
<circle cx="249.26" cy="135.64" r="2.05" fill="#d95f02" fill-opacity="0.38" stroke="#d95f02" stroke-opacity="0.52" stroke-width="1.4"/>
<circle cx="259.24" cy="136.75" r="2.05" fill="#d95f02" fill-opacity="0.38" stroke="#d95f02" stroke-opacity="0.52" stroke-width="1.4"/>
<circle cx="262.57" cy="136.2" r="2.05" fill="#d95f02" fill-opacity="0.38" stroke="#d95f02" stroke-opacity="0.52" stroke-width="1.4"/>
<circle cx="248.15" cy="138.97" r="2.05" fill="#d95f02" fill-opacity="0.38" stroke="#d95f02" stroke-opacity="0.52" stroke-width="1.4"/>
<circle cx="252.58" cy="139.53" r="2.05" fill="#d95f02" fill-opacity="0.38" stroke="#d95f02" stroke-opacity="0.52" stroke-width="1.4"/>
<circle cx="250.36" cy="143.96" r="2.05" fill="#d95f02" fill-opacity="0.38" stroke="#d95f02" stroke-opacity="0.52" stroke-width="1.4"/>
<circle cx="255.91" cy="143.96" r="2.05" fill="#d95f02" fill-opacity="0.38" stroke="#d95f02" stroke-opacity="0.52" stroke-width="1.4"/>
<circle cx="253.69" cy="146.74" r="2.05" fill="#d95f02" fill-opacity="0.38" stroke="#d95f02" stroke-opacity="0.52" stroke-width="1.4"/>
<circle cx="258.69" cy="147.29" r="2.05" fill="#d95f02" fill-opacity="0.38" stroke="#d95f02" stroke-opacity="0.52" stroke-width="1.4"/>
<circle cx="263.68" cy="147.85" r="2.05" fill="#d95f02" fill-opacity="0.38" stroke="#d95f02" stroke-opacity="0.52" stroke-width="1.4"/>
<circle cx="249.26" cy="149.51" r="2.05" fill="#d95f02" fill-opacity="0.38" stroke="#d95f02" stroke-opacity="0.52" stroke-width="1.4"/>
<circle cx="260.35" cy="150.07" r="2.05" fill="#d95f02" fill-opacity="0.38" stroke="#d95f02" stroke-opacity="0.52" stroke-width="1.4"/>
<circle cx="257.02" cy="152.28" r="2.05" fill="#d95f02" fill-opacity="0.38" stroke="#d95f02" stroke-opacity="0.52" stroke-width="1.4"/>
<circle cx="247.59" cy="154.5" r="2.05" fill="#d95f02" fill-opacity="0.38" stroke="#d95f02" stroke-opacity="0.52" stroke-width="1.4"/>
<circle cx="251.47" cy="153.39" r="2.05" fill="#d95f02" fill-opacity="0.38" stroke="#d95f02" stroke-opacity="0.52" stroke-width="1.4"/>
<circle cx="207.09" cy="160.88" r="2.05" fill="#1b9e77" fill-opacity="0.38" stroke="#1b9e77" stroke-opacity="0.52" stroke-width="1.4"/>
<circle cx="214.31" cy="161.43" r="2.05" fill="#1b9e77" fill-opacity="0.38" stroke="#1b9e77" stroke-opacity="0.52" stroke-width="1.4"/>
<circle cx="217.64" cy="163.09" r="2.05" fill="#1b9e77" fill-opacity="0.38" stroke="#1b9e77" stroke-opacity="0.52" stroke-width="1.4"/>
<circle cx="205.43" cy="165.31" r="2.05" fill="#1b9e77" fill-opacity="0.38" stroke="#1b9e77" stroke-opacity="0.52" stroke-width="1.4"/>
<circle cx="209.31" cy="165.87" r="2.05" fill="#1b9e77" fill-opacity="0.38" stroke="#1b9e77" stroke-opacity="0.52" stroke-width="1.4"/>
<circle cx="217.64" cy="166.98" r="2.05" fill="#1b9e77" fill-opacity="0.38" stroke="#1b9e77" stroke-opacity="0.52" stroke-width="1.4"/>
<circle cx="220.41" cy="169.2" r="2.05" fill="#1b9e77" fill-opacity="0.38" stroke="#1b9e77" stroke-opacity="0.52" stroke-width="1.4"/>
<circle cx="204.32" cy="171.42" r="2.05" fill="#1b9e77" fill-opacity="0.38" stroke="#1b9e77" stroke-opacity="0.52" stroke-width="1.4"/>
<circle cx="210.42" cy="170.86" r="2.05" fill="#1b9e77" fill-opacity="0.38" stroke="#1b9e77" stroke-opacity="0.52" stroke-width="1.4"/>
<circle cx="213.75" cy="173.08" r="2.05" fill="#1b9e77" fill-opacity="0.38" stroke="#1b9e77" stroke-opacity="0.52" stroke-width="1.4"/>
<circle cx="205.99" cy="173.64" r="2.05" fill="#1b9e77" fill-opacity="0.38" stroke="#1b9e77" stroke-opacity="0.52" stroke-width="1.4"/>
<circle cx="211.53" cy="175.85" r="2.05" fill="#1b9e77" fill-opacity="0.38" stroke="#1b9e77" stroke-opacity="0.52" stroke-width="1.4"/>
<circle cx="219.85" cy="175.85" r="2.05" fill="#1b9e77" fill-opacity="0.38" stroke="#1b9e77" stroke-opacity="0.52" stroke-width="1.4"/>
<circle cx="206.54" cy="183.07" r="2.05" fill="#1b9e77" fill-opacity="0.38" stroke="#1b9e77" stroke-opacity="0.52" stroke-width="1.4"/>
<circle cx="211.53" cy="184.18" r="2.05" fill="#1b9e77" fill-opacity="0.38" stroke="#1b9e77" stroke-opacity="0.52" stroke-width="1.4"/>
<circle cx="220.96" cy="183.62" r="2.05" fill="#1b9e77" fill-opacity="0.38" stroke="#1b9e77" stroke-opacity="0.52" stroke-width="1.4"/>
<circle cx="255.69" cy="160.32" r="2.05" fill="#d95f02" fill-opacity="0.38" stroke="#d95f02" stroke-opacity="0.52" stroke-width="1.4"/>
<circle cx="251.47" cy="165.31" r="2.05" fill="#d95f02" fill-opacity="0.38" stroke="#d95f02" stroke-opacity="0.52" stroke-width="1.4"/>
<circle cx="248.15" cy="168.64" r="2.05" fill="#d95f02" fill-opacity="0.38" stroke="#d95f02" stroke-opacity="0.52" stroke-width="1.4"/>
<circle cx="253.69" cy="168.09" r="2.05" fill="#d95f02" fill-opacity="0.38" stroke="#d95f02" stroke-opacity="0.52" stroke-width="1.4"/>
<circle cx="260.35" cy="168.64" r="2.05" fill="#d95f02" fill-opacity="0.38" stroke="#d95f02" stroke-opacity="0.52" stroke-width="1.4"/>
<circle cx="257.02" cy="169.75" r="2.05" fill="#d95f02" fill-opacity="0.38" stroke="#d95f02" stroke-opacity="0.52" stroke-width="1.4"/>
<circle cx="248.15" cy="175.3" r="2.05" fill="#d95f02" fill-opacity="0.38" stroke="#d95f02" stroke-opacity="0.52" stroke-width="1.4"/>
<circle cx="258.69" cy="173.64" r="2.05" fill="#d95f02" fill-opacity="0.38" stroke="#d95f02" stroke-opacity="0.52" stroke-width="1.4"/>
<circle cx="258.13" cy="179.74" r="2.05" fill="#d95f02" fill-opacity="0.38" stroke="#d95f02" stroke-opacity="0.52" stroke-width="1.4"/>
<circle cx="262.01" cy="181.4" r="2.05" fill="#d95f02" fill-opacity="0.38" stroke="#d95f02" stroke-opacity="0.52" stroke-width="1.4"/>
<circle cx="261.46" cy="185.28" r="2.05" fill="#d95f02" fill-opacity="0.38" stroke="#d95f02" stroke-opacity="0.52" stroke-width="1.4"/>
<circle cx="252.81" cy="187.28" r="2.05" fill="#d95f02" fill-opacity="0.38" stroke="#d95f02" stroke-opacity="0.52" stroke-width="1.4"/>
<circle cx="219.3" cy="191.66" r="2.05" fill="#1b9e77" fill-opacity="0.38" stroke="#1b9e77" stroke-opacity="0.52" stroke-width="1.4"/>
<circle cx="210.42" cy="193.32" r="2.05" fill="#1b9e77" fill-opacity="0.38" stroke="#1b9e77" stroke-opacity="0.52" stroke-width="1.4"/>
<circle cx="208.2" cy="195.54" r="2.05" fill="#1b9e77" fill-opacity="0.38" stroke="#1b9e77" stroke-opacity="0.52" stroke-width="1.4"/>
<circle cx="207.09" cy="197.2" r="2.05" fill="#1b9e77" fill-opacity="0.38" stroke="#1b9e77" stroke-opacity="0.52" stroke-width="1.4"/>
<circle cx="210.42" cy="199.42" r="2.05" fill="#1b9e77" fill-opacity="0.38" stroke="#1b9e77" stroke-opacity="0.52" stroke-width="1.4"/>
<circle cx="214.86" cy="199.98" r="2.05" fill="#1b9e77" fill-opacity="0.38" stroke="#1b9e77" stroke-opacity="0.52" stroke-width="1.4"/>
<circle cx="210.42" cy="203.31" r="2.05" fill="#1b9e77" fill-opacity="0.38" stroke="#1b9e77" stroke-opacity="0.52" stroke-width="1.4"/>
<circle cx="207.65" cy="207.74" r="2.05" fill="#1b9e77" fill-opacity="0.38" stroke="#1b9e77" stroke-opacity="0.52" stroke-width="1.4"/>
<circle cx="210.42" cy="207.19" r="2.05" fill="#1b9e77" fill-opacity="0.38" stroke="#1b9e77" stroke-opacity="0.52" stroke-width="1.4"/>
<circle cx="218.74" cy="209.41" r="2.05" fill="#1b9e77" fill-opacity="0.38" stroke="#1b9e77" stroke-opacity="0.52" stroke-width="1.4"/>
<circle cx="208.2" cy="212.74" r="2.05" fill="#1b9e77" fill-opacity="0.38" stroke="#1b9e77" stroke-opacity="0.52" stroke-width="1.4"/>
<circle cx="215.42" cy="211.63" r="2.05" fill="#1b9e77" fill-opacity="0.38" stroke="#1b9e77" stroke-opacity="0.52" stroke-width="1.4"/>
<circle cx="220.41" cy="213.62" r="2.05" fill="#1b9e77" fill-opacity="0.38" stroke="#1b9e77" stroke-opacity="0.52" stroke-width="1.4"/>
<circle cx="254.8" cy="192.77" r="2.05" fill="#d95f02" fill-opacity="0.38" stroke="#d95f02" stroke-opacity="0.52" stroke-width="1.4"/>
<circle cx="249.03" cy="194.99" r="2.05" fill="#d95f02" fill-opacity="0.38" stroke="#d95f02" stroke-opacity="0.52" stroke-width="1.4"/>
<circle cx="252.03" cy="195.54" r="2.05" fill="#d95f02" fill-opacity="0.38" stroke="#d95f02" stroke-opacity="0.52" stroke-width="1.4"/>
<circle cx="263.12" cy="200.53" r="2.05" fill="#d95f02" fill-opacity="0.38" stroke="#d95f02" stroke-opacity="0.52" stroke-width="1.4"/>
<circle cx="263.68" cy="202.75" r="2.05" fill="#d95f02" fill-opacity="0.38" stroke="#d95f02" stroke-opacity="0.52" stroke-width="1.4"/>
<circle cx="253.14" cy="203.86" r="2.05" fill="#d95f02" fill-opacity="0.38" stroke="#d95f02" stroke-opacity="0.52" stroke-width="1.4"/>
<circle cx="258.69" cy="204.97" r="2.05" fill="#d95f02" fill-opacity="0.38" stroke="#d95f02" stroke-opacity="0.52" stroke-width="1.4"/>
<circle cx="247.26" cy="205.53" r="2.05" fill="#d95f02" fill-opacity="0.38" stroke="#d95f02" stroke-opacity="0.52" stroke-width="1.4"/>
<circle cx="247.04" cy="222.17" r="2.05" fill="#d95f02" fill-opacity="0.38" stroke="#d95f02" stroke-opacity="0.52" stroke-width="1.4"/>
<circle cx="209.87" cy="228.32" r="2.05" fill="#1b9e77" fill-opacity="0.38" stroke="#1b9e77" stroke-opacity="0.52" stroke-width="1.4"/>
<circle cx="218.19" cy="231.31" r="2.05" fill="#1b9e77" fill-opacity="0.38" stroke="#1b9e77" stroke-opacity="0.52" stroke-width="1.4"/>
<circle cx="221.3" cy="230.2" r="2.05" fill="#1b9e77" fill-opacity="0.38" stroke="#1b9e77" stroke-opacity="0.52" stroke-width="1.4"/>
<circle cx="207.65" cy="244.96" r="2.05" fill="#1b9e77" fill-opacity="0.38" stroke="#1b9e77" stroke-opacity="0.52" stroke-width="1.4"/>
<circle cx="252.25" cy="226.32" r="2.05" fill="#d95f02" fill-opacity="0.38" stroke="#d95f02" stroke-opacity="0.52" stroke-width="1.4"/>
<circle cx="250.03" cy="236.08" r="2.05" fill="#d95f02" fill-opacity="0.38" stroke="#d95f02" stroke-opacity="0.52" stroke-width="1.4"/>
<circle cx="260.35" cy="238.19" r="2.05" fill="#d95f02" fill-opacity="0.38" stroke="#d95f02" stroke-opacity="0.52" stroke-width="1.4"/>
<circle cx="252.81" cy="249.62" r="2.05" fill="#d95f02" fill-opacity="0.38" stroke="#d95f02" stroke-opacity="0.52" stroke-width="1.4"/>
<circle cx="251.14" cy="252.62" r="2.05" fill="#d95f02" fill-opacity="0.38" stroke="#d95f02" stroke-opacity="0.52" stroke-width="1.4"/>
<circle cx="260.13" cy="257.05" r="2.05" fill="#d95f02" fill-opacity="0.38" stroke="#d95f02" stroke-opacity="0.52" stroke-width="1.4"/>
<circle cx="215.64" cy="267.64" r="2.05" fill="#1b9e77" fill-opacity="0.38" stroke="#1b9e77" stroke-opacity="0.52" stroke-width="1.4"/>
<circle cx="210.42" cy="284.06" r="2.05" fill="#1b9e77" fill-opacity="0.38" stroke="#1b9e77" stroke-opacity="0.52" stroke-width="1.4"/>
<circle cx="220.19" cy="285.17" r="2.05" fill="#1b9e77" fill-opacity="0.38" stroke="#1b9e77" stroke-opacity="0.52" stroke-width="1.4"/>
<circle cx="263.46" cy="263.54" r="2.05" fill="#d95f02" fill-opacity="0.38" stroke="#d95f02" stroke-opacity="0.52" stroke-width="1.4"/>
<circle cx="253.47" cy="272.41" r="2.05" fill="#d95f02" fill-opacity="0.38" stroke="#d95f02" stroke-opacity="0.52" stroke-width="1.4"/>
<circle cx="248.15" cy="285.17" r="2.05" fill="#d95f02" fill-opacity="0.38" stroke="#d95f02" stroke-opacity="0.52" stroke-width="1.4"/>
<circle cx="409.31" cy="78.99" r="2.05" fill="#1b9e77" fill-opacity="0.38" stroke="#1b9e77" stroke-opacity="0.52" stroke-width="1.4"/>
<circle cx="408.98" cy="93.64" r="2.05" fill="#1b9e77" fill-opacity="0.38" stroke="#1b9e77" stroke-opacity="0.52" stroke-width="1.4"/>
<circle cx="418.74" cy="91.75" r="2.05" fill="#1b9e77" fill-opacity="0.38" stroke="#1b9e77" stroke-opacity="0.52" stroke-width="1.4"/>
<circle cx="410.65" cy="101.4" r="2.05" fill="#1b9e77" fill-opacity="0.38" stroke="#1b9e77" stroke-opacity="0.52" stroke-width="1.4"/>
<circle cx="417.08" cy="100.62" r="2.05" fill="#1b9e77" fill-opacity="0.38" stroke="#1b9e77" stroke-opacity="0.52" stroke-width="1.4"/>
<circle cx="413.75" cy="104.18" r="2.05" fill="#1b9e77" fill-opacity="0.38" stroke="#1b9e77" stroke-opacity="0.52" stroke-width="1.4"/>
<circle cx="453.14" cy="79.99" r="2.05" fill="#d95f02" fill-opacity="0.38" stroke="#d95f02" stroke-opacity="0.52" stroke-width="1.4"/>
<circle cx="409.87" cy="115.21" r="2.05" fill="#1b9e77" fill-opacity="0.38" stroke="#1b9e77" stroke-opacity="0.52" stroke-width="1.4"/>
<circle cx="417.3" cy="116.98" r="2.05" fill="#1b9e77" fill-opacity="0.38" stroke="#1b9e77" stroke-opacity="0.52" stroke-width="1.4"/>
<circle cx="407.65" cy="119.98" r="2.05" fill="#1b9e77" fill-opacity="0.38" stroke="#1b9e77" stroke-opacity="0.52" stroke-width="1.4"/>
<circle cx="412.09" cy="121.09" r="2.05" fill="#1b9e77" fill-opacity="0.38" stroke="#1b9e77" stroke-opacity="0.52" stroke-width="1.4"/>
<circle cx="415.97" cy="122.2" r="2.05" fill="#1b9e77" fill-opacity="0.38" stroke="#1b9e77" stroke-opacity="0.52" stroke-width="1.4"/>
<circle cx="412.09" cy="124.42" r="2.05" fill="#1b9e77" fill-opacity="0.38" stroke="#1b9e77" stroke-opacity="0.52" stroke-width="1.4"/>
<circle cx="406.54" cy="129.63" r="2.05" fill="#1b9e77" fill-opacity="0.38" stroke="#1b9e77" stroke-opacity="0.52" stroke-width="1.4"/>
<circle cx="415.75" cy="128.52" r="2.05" fill="#1b9e77" fill-opacity="0.38" stroke="#1b9e77" stroke-opacity="0.52" stroke-width="1.4"/>
<circle cx="418.74" cy="131.63" r="2.05" fill="#1b9e77" fill-opacity="0.38" stroke="#1b9e77" stroke-opacity="0.52" stroke-width="1.4"/>
<circle cx="415.42" cy="133.29" r="2.05" fill="#1b9e77" fill-opacity="0.38" stroke="#1b9e77" stroke-opacity="0.52" stroke-width="1.4"/>
<circle cx="411.53" cy="134.73" r="2.05" fill="#1b9e77" fill-opacity="0.38" stroke="#1b9e77" stroke-opacity="0.52" stroke-width="1.4"/>
<circle cx="420.96" cy="134.73" r="2.05" fill="#1b9e77" fill-opacity="0.38" stroke="#1b9e77" stroke-opacity="0.52" stroke-width="1.4"/>
<circle cx="410.42" cy="140.28" r="2.05" fill="#1b9e77" fill-opacity="0.38" stroke="#1b9e77" stroke-opacity="0.52" stroke-width="1.4"/>
<circle cx="417.08" cy="140.28" r="2.05" fill="#1b9e77" fill-opacity="0.38" stroke="#1b9e77" stroke-opacity="0.52" stroke-width="1.4"/>
<circle cx="449.26" cy="115.21" r="2.05" fill="#d95f02" fill-opacity="0.38" stroke="#d95f02" stroke-opacity="0.52" stroke-width="1.4"/>
<circle cx="452.58" cy="118.31" r="2.05" fill="#d95f02" fill-opacity="0.38" stroke="#d95f02" stroke-opacity="0.52" stroke-width="1.4"/>
<circle cx="449.26" cy="124.97" r="2.05" fill="#d95f02" fill-opacity="0.38" stroke="#d95f02" stroke-opacity="0.52" stroke-width="1.4"/>
<circle cx="454.8" cy="134.07" r="2.05" fill="#d95f02" fill-opacity="0.38" stroke="#d95f02" stroke-opacity="0.52" stroke-width="1.4"/>
<circle cx="448.15" cy="137.18" r="2.05" fill="#d95f02" fill-opacity="0.38" stroke="#d95f02" stroke-opacity="0.52" stroke-width="1.4"/>
<circle cx="417.08" cy="148.54" r="2.05" fill="#1b9e77" fill-opacity="0.38" stroke="#1b9e77" stroke-opacity="0.52" stroke-width="1.4"/>
<circle cx="417.08" cy="152.42" r="2.05" fill="#1b9e77" fill-opacity="0.38" stroke="#1b9e77" stroke-opacity="0.52" stroke-width="1.4"/>
<circle cx="411.53" cy="156.31" r="2.05" fill="#1b9e77" fill-opacity="0.38" stroke="#1b9e77" stroke-opacity="0.52" stroke-width="1.4"/>
<circle cx="405.43" cy="158.53" r="2.05" fill="#1b9e77" fill-opacity="0.38" stroke="#1b9e77" stroke-opacity="0.52" stroke-width="1.4"/>
<circle cx="411.53" cy="160.74" r="2.05" fill="#1b9e77" fill-opacity="0.38" stroke="#1b9e77" stroke-opacity="0.52" stroke-width="1.4"/>
<circle cx="404.32" cy="162.96" r="2.05" fill="#1b9e77" fill-opacity="0.38" stroke="#1b9e77" stroke-opacity="0.52" stroke-width="1.4"/>
<circle cx="412.64" cy="164.63" r="2.05" fill="#1b9e77" fill-opacity="0.38" stroke="#1b9e77" stroke-opacity="0.52" stroke-width="1.4"/>
<circle cx="418.74" cy="164.07" r="2.05" fill="#1b9e77" fill-opacity="0.38" stroke="#1b9e77" stroke-opacity="0.52" stroke-width="1.4"/>
<circle cx="408.2" cy="165.74" r="2.05" fill="#1b9e77" fill-opacity="0.38" stroke="#1b9e77" stroke-opacity="0.52" stroke-width="1.4"/>
<circle cx="409.31" cy="169.07" r="2.05" fill="#1b9e77" fill-opacity="0.38" stroke="#1b9e77" stroke-opacity="0.52" stroke-width="1.4"/>
<circle cx="417.08" cy="169.62" r="2.05" fill="#1b9e77" fill-opacity="0.38" stroke="#1b9e77" stroke-opacity="0.52" stroke-width="1.4"/>
<circle cx="405.99" cy="172.39" r="2.05" fill="#1b9e77" fill-opacity="0.38" stroke="#1b9e77" stroke-opacity="0.52" stroke-width="1.4"/>
<circle cx="448.7" cy="145.21" r="2.05" fill="#d95f02" fill-opacity="0.38" stroke="#d95f02" stroke-opacity="0.52" stroke-width="1.4"/>
<circle cx="452.58" cy="146.32" r="2.05" fill="#d95f02" fill-opacity="0.38" stroke="#d95f02" stroke-opacity="0.52" stroke-width="1.4"/>
<circle cx="446.48" cy="149.09" r="2.05" fill="#d95f02" fill-opacity="0.38" stroke="#d95f02" stroke-opacity="0.52" stroke-width="1.4"/>
<circle cx="452.03" cy="151.31" r="2.05" fill="#d95f02" fill-opacity="0.38" stroke="#d95f02" stroke-opacity="0.52" stroke-width="1.4"/>
<circle cx="448.15" cy="155.75" r="2.05" fill="#d95f02" fill-opacity="0.38" stroke="#d95f02" stroke-opacity="0.52" stroke-width="1.4"/>
<circle cx="451.47" cy="154.64" r="2.05" fill="#d95f02" fill-opacity="0.38" stroke="#d95f02" stroke-opacity="0.52" stroke-width="1.4"/>
<circle cx="457.58" cy="155.75" r="2.05" fill="#d95f02" fill-opacity="0.38" stroke="#d95f02" stroke-opacity="0.52" stroke-width="1.4"/>
<circle cx="450.92" cy="161.85" r="2.05" fill="#d95f02" fill-opacity="0.38" stroke="#d95f02" stroke-opacity="0.52" stroke-width="1.4"/>
<circle cx="457.58" cy="163.52" r="2.05" fill="#d95f02" fill-opacity="0.38" stroke="#d95f02" stroke-opacity="0.52" stroke-width="1.4"/>
<circle cx="461.46" cy="164.63" r="2.05" fill="#d95f02" fill-opacity="0.38" stroke="#d95f02" stroke-opacity="0.52" stroke-width="1.4"/>
<circle cx="447.59" cy="165.74" r="2.05" fill="#d95f02" fill-opacity="0.38" stroke="#d95f02" stroke-opacity="0.52" stroke-width="1.4"/>
<circle cx="453.69" cy="167.4" r="2.05" fill="#d95f02" fill-opacity="0.38" stroke="#d95f02" stroke-opacity="0.52" stroke-width="1.4"/>
<circle cx="449.26" cy="171.28" r="2.05" fill="#d95f02" fill-opacity="0.38" stroke="#d95f02" stroke-opacity="0.52" stroke-width="1.4"/>
<circle cx="454.8" cy="173.5" r="2.05" fill="#d95f02" fill-opacity="0.38" stroke="#d95f02" stroke-opacity="0.52" stroke-width="1.4"/>
<circle cx="459.8" cy="172.39" r="2.05" fill="#d95f02" fill-opacity="0.38" stroke="#d95f02" stroke-opacity="0.52" stroke-width="1.4"/>
<circle cx="404.88" cy="178.77" r="2.05" fill="#1b9e77" fill-opacity="0.38" stroke="#1b9e77" stroke-opacity="0.52" stroke-width="1.4"/>
<circle cx="404.88" cy="182.65" r="2.05" fill="#1b9e77" fill-opacity="0.38" stroke="#1b9e77" stroke-opacity="0.52" stroke-width="1.4"/>
<circle cx="408.2" cy="183.76" r="2.05" fill="#1b9e77" fill-opacity="0.38" stroke="#1b9e77" stroke-opacity="0.52" stroke-width="1.4"/>
<circle cx="410.42" cy="186.53" r="2.05" fill="#1b9e77" fill-opacity="0.38" stroke="#1b9e77" stroke-opacity="0.52" stroke-width="1.4"/>
<circle cx="407.65" cy="195.96" r="2.05" fill="#1b9e77" fill-opacity="0.38" stroke="#1b9e77" stroke-opacity="0.52" stroke-width="1.4"/>
<circle cx="414.31" cy="194.85" r="2.05" fill="#1b9e77" fill-opacity="0.38" stroke="#1b9e77" stroke-opacity="0.52" stroke-width="1.4"/>
<circle cx="409.31" cy="199.85" r="2.05" fill="#1b9e77" fill-opacity="0.38" stroke="#1b9e77" stroke-opacity="0.52" stroke-width="1.4"/>
<circle cx="418.19" cy="200.07" r="2.05" fill="#1b9e77" fill-opacity="0.38" stroke="#1b9e77" stroke-opacity="0.52" stroke-width="1.4"/>
<circle cx="453.69" cy="175.99" r="2.05" fill="#d95f02" fill-opacity="0.38" stroke="#d95f02" stroke-opacity="0.52" stroke-width="1.4"/>
<circle cx="456.47" cy="175.44" r="2.05" fill="#d95f02" fill-opacity="0.38" stroke="#d95f02" stroke-opacity="0.52" stroke-width="1.4"/>
<circle cx="453.69" cy="184.31" r="2.05" fill="#d95f02" fill-opacity="0.38" stroke="#d95f02" stroke-opacity="0.52" stroke-width="1.4"/>
<circle cx="456.47" cy="183.2" r="2.05" fill="#d95f02" fill-opacity="0.38" stroke="#d95f02" stroke-opacity="0.52" stroke-width="1.4"/>
<circle cx="458.69" cy="182.65" r="2.05" fill="#d95f02" fill-opacity="0.38" stroke="#d95f02" stroke-opacity="0.52" stroke-width="1.4"/>
<circle cx="452.03" cy="193.19" r="2.05" fill="#d95f02" fill-opacity="0.38" stroke="#d95f02" stroke-opacity="0.52" stroke-width="1.4"/>
<circle cx="455.91" cy="196.52" r="2.05" fill="#d95f02" fill-opacity="0.38" stroke="#d95f02" stroke-opacity="0.52" stroke-width="1.4"/>
<circle cx="461.68" cy="192.3" r="2.05" fill="#d95f02" fill-opacity="0.38" stroke="#d95f02" stroke-opacity="0.52" stroke-width="1.4"/>
<circle cx="461.46" cy="204.28" r="2.05" fill="#d95f02" fill-opacity="0.38" stroke="#d95f02" stroke-opacity="0.52" stroke-width="1.4"/>
<circle cx="461.46" cy="207.61" r="2.05" fill="#d95f02" fill-opacity="0.38" stroke="#d95f02" stroke-opacity="0.52" stroke-width="1.4"/>
<circle cx="414.08" cy="209.77" r="2.05" fill="#1b9e77" fill-opacity="0.38" stroke="#1b9e77" stroke-opacity="0.52" stroke-width="1.4"/>
<circle cx="452.81" cy="226.19" r="2.05" fill="#d95f02" fill-opacity="0.38" stroke="#d95f02" stroke-opacity="0.52" stroke-width="1.4"/>
<circle cx="454.25" cy="230.41" r="2.05" fill="#d95f02" fill-opacity="0.38" stroke="#d95f02" stroke-opacity="0.52" stroke-width="1.4"/>
<circle cx="463.12" cy="237.28" r="2.05" fill="#d95f02" fill-opacity="0.38" stroke="#d95f02" stroke-opacity="0.52" stroke-width="1.4"/>
<circle cx="407.98" cy="244.21" r="2.05" fill="#1b9e77" fill-opacity="0.38" stroke="#1b9e77" stroke-opacity="0.52" stroke-width="1.4"/>
<circle cx="407.98" cy="263.63" r="2.05" fill="#1b9e77" fill-opacity="0.38" stroke="#1b9e77" stroke-opacity="0.52" stroke-width="1.4"/>
<circle cx="455.36" cy="244.21" r="2.05" fill="#d95f02" fill-opacity="0.38" stroke="#d95f02" stroke-opacity="0.52" stroke-width="1.4"/>
<circle cx="460.91" cy="247.32" r="2.05" fill="#d95f02" fill-opacity="0.38" stroke="#d95f02" stroke-opacity="0.52" stroke-width="1.4"/>
<circle cx="456.47" cy="261.63" r="2.05" fill="#d95f02" fill-opacity="0.38" stroke="#d95f02" stroke-opacity="0.52" stroke-width="1.4"/>
<circle cx="454.58" cy="264.74" r="2.05" fill="#d95f02" fill-opacity="0.38" stroke="#d95f02" stroke-opacity="0.52" stroke-width="1.4"/>
<circle cx="462.01" cy="266.73" r="2.05" fill="#d95f02" fill-opacity="0.38" stroke="#d95f02" stroke-opacity="0.52" stroke-width="1.4"/>
<circle cx="416.3" cy="283.3" r="2.05" fill="#1b9e77" fill-opacity="0.38" stroke="#1b9e77" stroke-opacity="0.52" stroke-width="1.4"/>
<circle cx="519.65" cy="71.43" r="2.05" fill="#1b9e77" fill-opacity="0.38" stroke="#1b9e77" stroke-opacity="0.52" stroke-width="1.4"/>
<circle cx="520.43" cy="72.54" r="2.05" fill="#1b9e77" fill-opacity="0.38" stroke="#1b9e77" stroke-opacity="0.52" stroke-width="1.4"/>
<circle cx="520.76" cy="78.09" r="2.05" fill="#1b9e77" fill-opacity="0.38" stroke="#1b9e77" stroke-opacity="0.52" stroke-width="1.4"/>
<circle cx="526.86" cy="78.86" r="2.05" fill="#1b9e77" fill-opacity="0.38" stroke="#1b9e77" stroke-opacity="0.52" stroke-width="1.4"/>
<circle cx="529.64" cy="94.18" r="2.05" fill="#1b9e77" fill-opacity="0.38" stroke="#1b9e77" stroke-opacity="0.52" stroke-width="1.4"/>
<circle cx="531.3" cy="97.5" r="2.05" fill="#1b9e77" fill-opacity="0.38" stroke="#1b9e77" stroke-opacity="0.52" stroke-width="1.4"/>
<circle cx="521.87" cy="98.61" r="2.05" fill="#1b9e77" fill-opacity="0.38" stroke="#1b9e77" stroke-opacity="0.52" stroke-width="1.4"/>
<circle cx="564.81" cy="68.1" r="2.05" fill="#d95f02" fill-opacity="0.38" stroke="#d95f02" stroke-opacity="0.52" stroke-width="1.4"/>
<circle cx="559.26" cy="77.2" r="2.05" fill="#d95f02" fill-opacity="0.38" stroke="#d95f02" stroke-opacity="0.52" stroke-width="1.4"/>
<circle cx="569.91" cy="76.2" r="2.05" fill="#d95f02" fill-opacity="0.38" stroke="#d95f02" stroke-opacity="0.52" stroke-width="1.4"/>
<circle cx="562.14" cy="83.97" r="2.05" fill="#d95f02" fill-opacity="0.38" stroke="#d95f02" stroke-opacity="0.52" stroke-width="1.4"/>
<circle cx="559.59" cy="88.63" r="2.05" fill="#d95f02" fill-opacity="0.38" stroke="#d95f02" stroke-opacity="0.52" stroke-width="1.4"/>
<circle cx="564.58" cy="94.73" r="2.05" fill="#d95f02" fill-opacity="0.38" stroke="#d95f02" stroke-opacity="0.52" stroke-width="1.4"/>
<circle cx="575.68" cy="98.06" r="2.05" fill="#d95f02" fill-opacity="0.38" stroke="#d95f02" stroke-opacity="0.52" stroke-width="1.4"/>
<circle cx="569.58" cy="98.06" r="2.05" fill="#d95f02" fill-opacity="0.38" stroke="#d95f02" stroke-opacity="0.52" stroke-width="1.4"/>
<circle cx="531.85" cy="102.77" r="2.05" fill="#1b9e77" fill-opacity="0.38" stroke="#1b9e77" stroke-opacity="0.52" stroke-width="1.4"/>
<circle cx="529.08" cy="101.1" r="2.05" fill="#1b9e77" fill-opacity="0.38" stroke="#1b9e77" stroke-opacity="0.52" stroke-width="1.4"/>
<circle cx="523.53" cy="109.98" r="2.05" fill="#1b9e77" fill-opacity="0.38" stroke="#1b9e77" stroke-opacity="0.52" stroke-width="1.4"/>
<circle cx="517.43" cy="114.97" r="2.05" fill="#1b9e77" fill-opacity="0.38" stroke="#1b9e77" stroke-opacity="0.52" stroke-width="1.4"/>
<circle cx="528.53" cy="116.08" r="2.05" fill="#1b9e77" fill-opacity="0.38" stroke="#1b9e77" stroke-opacity="0.52" stroke-width="1.4"/>
<circle cx="521.31" cy="119.96" r="2.05" fill="#1b9e77" fill-opacity="0.38" stroke="#1b9e77" stroke-opacity="0.52" stroke-width="1.4"/>
<circle cx="526.31" cy="118.85" r="2.05" fill="#1b9e77" fill-opacity="0.38" stroke="#1b9e77" stroke-opacity="0.52" stroke-width="1.4"/>
<circle cx="532.96" cy="119.96" r="2.05" fill="#1b9e77" fill-opacity="0.38" stroke="#1b9e77" stroke-opacity="0.52" stroke-width="1.4"/>
<circle cx="523.53" cy="122.18" r="2.05" fill="#1b9e77" fill-opacity="0.38" stroke="#1b9e77" stroke-opacity="0.52" stroke-width="1.4"/>
<circle cx="527.42" cy="122.74" r="2.05" fill="#1b9e77" fill-opacity="0.38" stroke="#1b9e77" stroke-opacity="0.52" stroke-width="1.4"/>
<circle cx="517.43" cy="128.84" r="2.05" fill="#1b9e77" fill-opacity="0.38" stroke="#1b9e77" stroke-opacity="0.52" stroke-width="1.4"/>
<circle cx="521.31" cy="128.28" r="2.05" fill="#1b9e77" fill-opacity="0.38" stroke="#1b9e77" stroke-opacity="0.52" stroke-width="1.4"/>
<circle cx="524.64" cy="128.84" r="2.05" fill="#1b9e77" fill-opacity="0.38" stroke="#1b9e77" stroke-opacity="0.52" stroke-width="1.4"/>
<circle cx="532.41" cy="131.06" r="2.05" fill="#1b9e77" fill-opacity="0.38" stroke="#1b9e77" stroke-opacity="0.52" stroke-width="1.4"/>
<circle cx="559.92" cy="103.32" r="2.05" fill="#d95f02" fill-opacity="0.38" stroke="#d95f02" stroke-opacity="0.52" stroke-width="1.4"/>
<circle cx="571.24" cy="106.09" r="2.05" fill="#d95f02" fill-opacity="0.38" stroke="#d95f02" stroke-opacity="0.52" stroke-width="1.4"/>
<circle cx="575.12" cy="109.98" r="2.05" fill="#d95f02" fill-opacity="0.38" stroke="#d95f02" stroke-opacity="0.52" stroke-width="1.4"/>
<circle cx="565.14" cy="109.98" r="2.05" fill="#d95f02" fill-opacity="0.38" stroke="#d95f02" stroke-opacity="0.52" stroke-width="1.4"/>
<circle cx="568.47" cy="114.42" r="2.05" fill="#d95f02" fill-opacity="0.38" stroke="#d95f02" stroke-opacity="0.52" stroke-width="1.4"/>
<circle cx="560.15" cy="117.74" r="2.05" fill="#d95f02" fill-opacity="0.38" stroke="#d95f02" stroke-opacity="0.52" stroke-width="1.4"/>
<circle cx="573.46" cy="117.74" r="2.05" fill="#d95f02" fill-opacity="0.38" stroke="#d95f02" stroke-opacity="0.52" stroke-width="1.4"/>
<circle cx="575.68" cy="118.85" r="2.05" fill="#d95f02" fill-opacity="0.38" stroke="#d95f02" stroke-opacity="0.52" stroke-width="1.4"/>
<circle cx="559.04" cy="123.85" r="2.05" fill="#d95f02" fill-opacity="0.38" stroke="#d95f02" stroke-opacity="0.52" stroke-width="1.4"/>
<circle cx="565.69" cy="125.51" r="2.05" fill="#d95f02" fill-opacity="0.38" stroke="#d95f02" stroke-opacity="0.52" stroke-width="1.4"/>
<circle cx="571.8" cy="126.07" r="2.05" fill="#d95f02" fill-opacity="0.38" stroke="#d95f02" stroke-opacity="0.52" stroke-width="1.4"/>
<circle cx="568.47" cy="128.28" r="2.05" fill="#d95f02" fill-opacity="0.38" stroke="#d95f02" stroke-opacity="0.52" stroke-width="1.4"/>
<circle cx="563.47" cy="131.06" r="2.05" fill="#d95f02" fill-opacity="0.38" stroke="#d95f02" stroke-opacity="0.52" stroke-width="1.4"/>
<circle cx="572.35" cy="130.5" r="2.05" fill="#d95f02" fill-opacity="0.38" stroke="#d95f02" stroke-opacity="0.52" stroke-width="1.4"/>
<circle cx="524.09" cy="133.55" r="2.05" fill="#1b9e77" fill-opacity="0.38" stroke="#1b9e77" stroke-opacity="0.52" stroke-width="1.4"/>
<circle cx="520.2" cy="141.31" r="2.05" fill="#1b9e77" fill-opacity="0.38" stroke="#1b9e77" stroke-opacity="0.52" stroke-width="1.4"/>
<circle cx="530.19" cy="143.53" r="2.05" fill="#1b9e77" fill-opacity="0.38" stroke="#1b9e77" stroke-opacity="0.52" stroke-width="1.4"/>
<circle cx="534.07" cy="139.65" r="2.05" fill="#1b9e77" fill-opacity="0.38" stroke="#1b9e77" stroke-opacity="0.52" stroke-width="1.4"/>
<circle cx="522.42" cy="145.2" r="2.05" fill="#1b9e77" fill-opacity="0.38" stroke="#1b9e77" stroke-opacity="0.52" stroke-width="1.4"/>
<circle cx="517.43" cy="148.53" r="2.05" fill="#1b9e77" fill-opacity="0.38" stroke="#1b9e77" stroke-opacity="0.52" stroke-width="1.4"/>
<circle cx="522.42" cy="148.53" r="2.05" fill="#1b9e77" fill-opacity="0.38" stroke="#1b9e77" stroke-opacity="0.52" stroke-width="1.4"/>
<circle cx="526.86" cy="148.53" r="2.05" fill="#1b9e77" fill-opacity="0.38" stroke="#1b9e77" stroke-opacity="0.52" stroke-width="1.4"/>
<circle cx="527.97" cy="154.07" r="2.05" fill="#1b9e77" fill-opacity="0.38" stroke="#1b9e77" stroke-opacity="0.52" stroke-width="1.4"/>
<circle cx="525.75" cy="157.96" r="2.05" fill="#1b9e77" fill-opacity="0.38" stroke="#1b9e77" stroke-opacity="0.52" stroke-width="1.4"/>
<circle cx="519.09" cy="161.06" r="2.05" fill="#1b9e77" fill-opacity="0.38" stroke="#1b9e77" stroke-opacity="0.52" stroke-width="1.4"/>
<circle cx="524.64" cy="162.39" r="2.05" fill="#1b9e77" fill-opacity="0.38" stroke="#1b9e77" stroke-opacity="0.52" stroke-width="1.4"/>
<circle cx="571.8" cy="139.09" r="2.05" fill="#d95f02" fill-opacity="0.38" stroke="#d95f02" stroke-opacity="0.52" stroke-width="1.4"/>
<circle cx="574.01" cy="140.76" r="2.05" fill="#d95f02" fill-opacity="0.38" stroke="#d95f02" stroke-opacity="0.52" stroke-width="1.4"/>
<circle cx="561.81" cy="144.64" r="2.05" fill="#d95f02" fill-opacity="0.38" stroke="#d95f02" stroke-opacity="0.52" stroke-width="1.4"/>
<circle cx="567.91" cy="145.2" r="2.05" fill="#d95f02" fill-opacity="0.38" stroke="#d95f02" stroke-opacity="0.52" stroke-width="1.4"/>
<circle cx="571.24" cy="148.53" r="2.05" fill="#d95f02" fill-opacity="0.38" stroke="#d95f02" stroke-opacity="0.52" stroke-width="1.4"/>
<circle cx="573.46" cy="151.85" r="2.05" fill="#d95f02" fill-opacity="0.38" stroke="#d95f02" stroke-opacity="0.52" stroke-width="1.4"/>
<circle cx="565.14" cy="152.96" r="2.05" fill="#d95f02" fill-opacity="0.38" stroke="#d95f02" stroke-opacity="0.52" stroke-width="1.4"/>
<circle cx="574.01" cy="154.63" r="2.05" fill="#d95f02" fill-opacity="0.38" stroke="#d95f02" stroke-opacity="0.52" stroke-width="1.4"/>
<circle cx="565.14" cy="157.4" r="2.05" fill="#d95f02" fill-opacity="0.38" stroke="#d95f02" stroke-opacity="0.52" stroke-width="1.4"/>
<circle cx="571.24" cy="160.73" r="2.05" fill="#d95f02" fill-opacity="0.38" stroke="#d95f02" stroke-opacity="0.52" stroke-width="1.4"/>
<circle cx="562.36" cy="165.17" r="2.05" fill="#d95f02" fill-opacity="0.38" stroke="#d95f02" stroke-opacity="0.52" stroke-width="1.4"/>
<circle cx="566.8" cy="165.17" r="2.05" fill="#d95f02" fill-opacity="0.38" stroke="#d95f02" stroke-opacity="0.52" stroke-width="1.4"/>
<circle cx="528.86" cy="170.76" r="2.05" fill="#1b9e77" fill-opacity="0.38" stroke="#1b9e77" stroke-opacity="0.52" stroke-width="1.4"/>
<circle cx="520.2" cy="177.09" r="2.05" fill="#1b9e77" fill-opacity="0.38" stroke="#1b9e77" stroke-opacity="0.52" stroke-width="1.4"/>
<circle cx="524.64" cy="176.53" r="2.05" fill="#1b9e77" fill-opacity="0.38" stroke="#1b9e77" stroke-opacity="0.52" stroke-width="1.4"/>
<circle cx="528.53" cy="180.97" r="2.05" fill="#1b9e77" fill-opacity="0.38" stroke="#1b9e77" stroke-opacity="0.52" stroke-width="1.4"/>
<circle cx="521.31" cy="180.97" r="2.05" fill="#1b9e77" fill-opacity="0.38" stroke="#1b9e77" stroke-opacity="0.52" stroke-width="1.4"/>
<circle cx="520.76" cy="184.52" r="2.05" fill="#1b9e77" fill-opacity="0.38" stroke="#1b9e77" stroke-opacity="0.52" stroke-width="1.4"/>
<circle cx="525.2" cy="186.52" r="2.05" fill="#1b9e77" fill-opacity="0.38" stroke="#1b9e77" stroke-opacity="0.52" stroke-width="1.4"/>
<circle cx="571.24" cy="167.1" r="2.05" fill="#d95f02" fill-opacity="0.38" stroke="#d95f02" stroke-opacity="0.52" stroke-width="1.4"/>
<circle cx="571.8" cy="170.43" r="2.05" fill="#d95f02" fill-opacity="0.38" stroke="#d95f02" stroke-opacity="0.52" stroke-width="1.4"/>
<circle cx="566.8" cy="174.31" r="2.05" fill="#d95f02" fill-opacity="0.38" stroke="#d95f02" stroke-opacity="0.52" stroke-width="1.4"/>
<circle cx="573.46" cy="174.87" r="2.05" fill="#d95f02" fill-opacity="0.38" stroke="#d95f02" stroke-opacity="0.52" stroke-width="1.4"/>
<circle cx="564.03" cy="184.85" r="2.05" fill="#d95f02" fill-opacity="0.38" stroke="#d95f02" stroke-opacity="0.52" stroke-width="1.4"/>
<circle cx="564.58" cy="191.51" r="2.05" fill="#d95f02" fill-opacity="0.38" stroke="#d95f02" stroke-opacity="0.52" stroke-width="1.4"/>
<circle cx="570.13" cy="193.18" r="2.05" fill="#d95f02" fill-opacity="0.38" stroke="#d95f02" stroke-opacity="0.52" stroke-width="1.4"/>
<circle cx="575.68" cy="192.29" r="2.05" fill="#d95f02" fill-opacity="0.38" stroke="#d95f02" stroke-opacity="0.52" stroke-width="1.4"/>
<circle cx="563.47" cy="197.06" r="2.05" fill="#d95f02" fill-opacity="0.38" stroke="#d95f02" stroke-opacity="0.52" stroke-width="1.4"/>
<circle cx="562.14" cy="207.09" r="2.05" fill="#d95f02" fill-opacity="0.38" stroke="#d95f02" stroke-opacity="0.52" stroke-width="1.4"/>
<circle cx="520.43" cy="228.55" r="2.05" fill="#1b9e77" fill-opacity="0.38" stroke="#1b9e77" stroke-opacity="0.52" stroke-width="1.4"/>
<circle cx="524.64" cy="230.55" r="2.05" fill="#1b9e77" fill-opacity="0.38" stroke="#1b9e77" stroke-opacity="0.52" stroke-width="1.4"/>
<circle cx="526.86" cy="231.88" r="2.05" fill="#1b9e77" fill-opacity="0.38" stroke="#1b9e77" stroke-opacity="0.52" stroke-width="1.4"/>
<circle cx="518.87" cy="244.97" r="2.05" fill="#1b9e77" fill-opacity="0.38" stroke="#1b9e77" stroke-opacity="0.52" stroke-width="1.4"/>
<circle cx="531.52" cy="249.96" r="2.05" fill="#1b9e77" fill-opacity="0.38" stroke="#1b9e77" stroke-opacity="0.52" stroke-width="1.4"/>
<circle cx="524.64" cy="258.84" r="2.05" fill="#1b9e77" fill-opacity="0.38" stroke="#1b9e77" stroke-opacity="0.52" stroke-width="1.4"/>
<circle cx="571.24" cy="240.31" r="2.05" fill="#d95f02" fill-opacity="0.38" stroke="#d95f02" stroke-opacity="0.52" stroke-width="1.4"/>
<circle cx="571.24" cy="248.85" r="2.05" fill="#d95f02" fill-opacity="0.38" stroke="#d95f02" stroke-opacity="0.52" stroke-width="1.4"/>
<circle cx="525.5" cy="274.7" r="2.05" fill="#1b9e77" fill-opacity="0.38" stroke="#1b9e77" stroke-opacity="0.52" stroke-width="1.4"/>
<circle cx="209.87" cy="112.63" r="2.05" fill="#1b9e77" fill-opacity="0.38" stroke="#1b9e77" stroke-opacity="0.52" stroke-width="1.4"/>
<circle cx="218.19" cy="115.4" r="2.05" fill="#1b9e77" fill-opacity="0.38" stroke="#1b9e77" stroke-opacity="0.52" stroke-width="1.4"/>
<circle cx="205.99" cy="117.62" r="2.05" fill="#1b9e77" fill-opacity="0.38" stroke="#1b9e77" stroke-opacity="0.52" stroke-width="1.4"/>
<circle cx="212.64" cy="116.51" r="2.05" fill="#1b9e77" fill-opacity="0.38" stroke="#1b9e77" stroke-opacity="0.52" stroke-width="1.4"/>
<circle cx="250.36" cy="108.19" r="2.05" fill="#d95f02" fill-opacity="0.38" stroke="#d95f02" stroke-opacity="0.52" stroke-width="1.4"/>
<circle cx="254.25" cy="111.74" r="2.05" fill="#d95f02" fill-opacity="0.38" stroke="#d95f02" stroke-opacity="0.52" stroke-width="1.4"/>
<circle cx="249.81" cy="117.62" r="2.05" fill="#d95f02" fill-opacity="0.38" stroke="#d95f02" stroke-opacity="0.52" stroke-width="1.4"/>
<circle cx="259.8" cy="119.28" r="2.05" fill="#d95f02" fill-opacity="0.38" stroke="#d95f02" stroke-opacity="0.52" stroke-width="1.4"/>
<circle cx="263.12" cy="122.61" r="2.05" fill="#d95f02" fill-opacity="0.38" stroke="#d95f02" stroke-opacity="0.52" stroke-width="1.4"/>
<circle cx="95.09" cy="83.29" r="2.05" fill="#1b9e77" fill-opacity="0.38" stroke="#1b9e77" stroke-opacity="0.52" stroke-width="1.4"/>
<circle cx="91.54" cy="87.4" r="2.05" fill="#1b9e77" fill-opacity="0.38" stroke="#1b9e77" stroke-opacity="0.52" stroke-width="1.4"/>
<circle cx="105.75" cy="75.19" r="2.05" fill="#1b9e77" fill-opacity="0.38" stroke="#1b9e77" stroke-opacity="0.52" stroke-width="1.4"/>
<circle cx="530.19" cy="98.33" r="2.05" fill="#1b9e77" fill-opacity="0.38" stroke="#1b9e77" stroke-opacity="0.52" stroke-width="1.4"/>
<circle cx="532.96" cy="101.88" r="2.05" fill="#1b9e77" fill-opacity="0.38" stroke="#1b9e77" stroke-opacity="0.52" stroke-width="1.4"/>
<circle cx="108.1" cy="89.8" r="2.05" fill="#1b9e77" fill-opacity="0.38" stroke="#1b9e77" stroke-opacity="0.52" stroke-width="1.4"/>
<circle cx="452.69" cy="118.65" r="2.05" fill="#d95f02" fill-opacity="0.38" stroke="#d95f02" stroke-opacity="0.52" stroke-width="1.4"/>
<circle cx="447.92" cy="137.4" r="2.05" fill="#d95f02" fill-opacity="0.38" stroke="#d95f02" stroke-opacity="0.52" stroke-width="1.4"/>
<circle cx="454.58" cy="134.51" r="2.05" fill="#d95f02" fill-opacity="0.38" stroke="#d95f02" stroke-opacity="0.52" stroke-width="1.4"/>
</g>
<line x1="100.3" y1="59.9" x2="100.3" y2="104.0" stroke="#1b9e77" stroke-width="2.5"/>
<line x1="100.3" y1="155.9" x2="100.3" y2="209.8" stroke="#1b9e77" stroke-width="2.5"/>
<rect x="81.40" y="104.0" width="37.80" height="51.90" fill="none" stroke="#1b9e77" stroke-width="2.5" stroke-linejoin="round"/>
<line x1="81.40" y1="126.3" x2="119.20" y2="126.3" stroke="#1b9e77" stroke-width="5.0"/>
<line x1="142.4" y1="77.2" x2="142.4" y2="121.7" stroke="#d95f02" stroke-width="2.5"/>
<line x1="142.4" y1="167.3" x2="142.4" y2="234.8" stroke="#d95f02" stroke-width="2.5"/>
<rect x="123.50" y="121.7" width="37.80" height="45.60" fill="none" stroke="#d95f02" stroke-width="2.5" stroke-linejoin="round"/>
<line x1="123.50" y1="142.8" x2="161.30" y2="142.8" stroke="#d95f02" stroke-width="5.0"/>
<line x1="213.3" y1="52.2" x2="213.3" y2="123.7" stroke="#1b9e77" stroke-width="2.5"/>
<line x1="213.3" y1="187.6" x2="213.3" y2="284.6" stroke="#1b9e77" stroke-width="2.5"/>
<rect x="194.40" y="123.7" width="37.80" height="63.90" fill="none" stroke="#1b9e77" stroke-width="2.5" stroke-linejoin="round"/>
<line x1="194.40" y1="156.7" x2="232.20" y2="156.7" stroke="#1b9e77" stroke-width="5.0"/>
<line x1="255.2" y1="25.4" x2="255.2" y2="106.6" stroke="#d95f02" stroke-width="2.5"/>
<line x1="255.2" y1="170.6" x2="255.2" y2="264.0" stroke="#d95f02" stroke-width="2.5"/>
<rect x="236.30" y="106.6" width="37.80" height="64.00" fill="none" stroke="#d95f02" stroke-width="2.5" stroke-linejoin="round"/>
<line x1="236.30" y1="131.3" x2="274.10" y2="131.3" stroke="#d95f02" stroke-width="5.0"/>
<line x1="412.8" y1="79.0" x2="412.8" y2="121.3" stroke="#1b9e77" stroke-width="2.5"/>
<line x1="412.8" y1="172.6" x2="412.8" y2="243.7" stroke="#1b9e77" stroke-width="2.5"/>
<rect x="393.90" y="121.3" width="37.80" height="51.30" fill="none" stroke="#1b9e77" stroke-width="2.5" stroke-linejoin="round"/>
<line x1="393.90" y1="144.7" x2="431.70" y2="144.7" stroke="#1b9e77" stroke-width="5.0"/>
<line x1="455.0" y1="79.7" x2="455.0" y2="149.2" stroke="#d95f02" stroke-width="2.5"/>
<line x1="455.0" y1="200.6" x2="455.0" y2="266.1" stroke="#d95f02" stroke-width="2.5"/>
<rect x="436.10" y="149.2" width="37.80" height="51.40" fill="none" stroke="#d95f02" stroke-width="2.5" stroke-linejoin="round"/>
<line x1="436.10" y1="168.9" x2="473.90" y2="168.9" stroke="#d95f02" stroke-width="5.0"/>
<line x1="525.5" y1="72.2" x2="525.5" y2="117.5" stroke="#1b9e77" stroke-width="2.5"/>
<line x1="525.5" y1="177.8" x2="525.5" y2="258.8" stroke="#1b9e77" stroke-width="2.5"/>
<rect x="506.60" y="117.5" width="37.80" height="60.30" fill="none" stroke="#1b9e77" stroke-width="2.5" stroke-linejoin="round"/>
<line x1="506.60" y1="137.3" x2="544.40" y2="137.3" stroke="#1b9e77" stroke-width="5.0"/>
<line x1="567.9" y1="68.3" x2="567.9" y2="112.8" stroke="#d95f02" stroke-width="2.5"/>
<line x1="567.9" y1="167.4" x2="567.9" y2="248.9" stroke="#d95f02" stroke-width="2.5"/>
<rect x="549.00" y="112.8" width="37.80" height="54.60" fill="none" stroke="#d95f02" stroke-width="2.5" stroke-linejoin="round"/>
<line x1="549.00" y1="135.5" x2="586.80" y2="135.5" stroke="#d95f02" stroke-width="5.0"/>
<line x1="654.5" y1="149.4" x2="654.5" y2="181.20000000000002" stroke="#1b9e77" stroke-width="2.4" stroke-linecap="round"/>
<rect x="639.3" y="155.0" width="30.2" height="19.8" fill="#fff" stroke="#1b9e77" stroke-width="2.5" stroke-linejoin="round"/>
<line x1="639.3" y1="165.3" x2="669.5" y2="165.3" stroke="#1b9e77" stroke-width="2.6"/>
<circle cx="654.5" cy="165.3" r="2.05" fill="#1b9e77" fill-opacity="0.38" stroke="#1b9e77" stroke-opacity="0.52" stroke-width="1.4" filter="url(#pb)"/>
<line x1="654.5" y1="190.1" x2="654.5" y2="221.9" stroke="#d95f02" stroke-width="2.4" stroke-linecap="round"/>
<rect x="639.3" y="195.7" width="30.2" height="19.8" fill="#fff" stroke="#d95f02" stroke-width="2.5" stroke-linejoin="round"/>
<line x1="639.3" y1="206.0" x2="669.5" y2="206.0" stroke="#d95f02" stroke-width="2.6"/>
<circle cx="654.5" cy="206.0" r="2.05" fill="#d95f02" fill-opacity="0.38" stroke="#d95f02" stroke-opacity="0.52" stroke-width="1.4" filter="url(#pb)"/>
<g filter="url(#gs)"><defs><filter id="gs"><feOffset dx="0" dy="0"/></filter></defs>
<text x="43.4" y="290.4" font-size="12.45" text-anchor="end" fill="#000" >0</text>
<text x="43.4" y="192.5" font-size="12.45" text-anchor="end" fill="#000" >100</text>
<text x="43.4" y="94.4" font-size="12.45" text-anchor="end" fill="#000" >200</text>
<text x="355.4" y="289.59999999999997" font-size="12.45" text-anchor="end" fill="#000" >0</text>
<text x="355.4" y="191.7" font-size="12.45" text-anchor="end" fill="#000" >100</text>
<text x="355.4" y="94.10000000000001" font-size="12.45" text-anchor="end" fill="#000" >200</text>
<text x="112.8" y="319.1" font-size="12.45" text-anchor="start" fill="#000" >F<tspan font-size="9.3" dy="3.6">20</tspan></text>
<text x="225.5" y="319.1" font-size="12.45" text-anchor="start" fill="#000" >F<tspan font-size="9.3" dy="3.6">32</tspan></text>
<text x="433.7" y="318.7" font-size="12.45" text-anchor="middle" fill="#000" >Inbred</text>
<text x="546.5" y="318.7" font-size="12.45" text-anchor="middle" fill="#000" >Outbred</text>
<text x="177.5" y="340.6" font-size="12.45" text-anchor="middle" fill="#000" >Generation</text>
<text x="440.5" y="340.5" font-size="12.45" text-anchor="start" fill="#000" >Female status F<tspan font-size="9.3" dy="3.6">45</tspan></text>
<text x="9.0" y="153.2" font-size="12.45" text-anchor="middle" fill="#000" transform="rotate(-90 9.0 153.2)">Fecundity</text>
<text x="635.6" y="133.8" font-size="12.45" text-anchor="start" fill="#000" >Morph</text>
<text x="677.6" y="169.6" font-size="12.45" text-anchor="start" fill="#000" >F</text>
<text x="677.8" y="210.4" font-size="12.45" text-anchor="start" fill="#000" >S</text>
<text x="0" y="0" font-size="15" text-anchor="start" fill="#000" font-weight="bold" transform="translate(22.2 10.7) scale(0.84 1)">a</text>
<text x="333.8" y="10.7" font-size="15" text-anchor="start" fill="#000" font-weight="bold">b</text>
</g>
</svg>
</body></html>
